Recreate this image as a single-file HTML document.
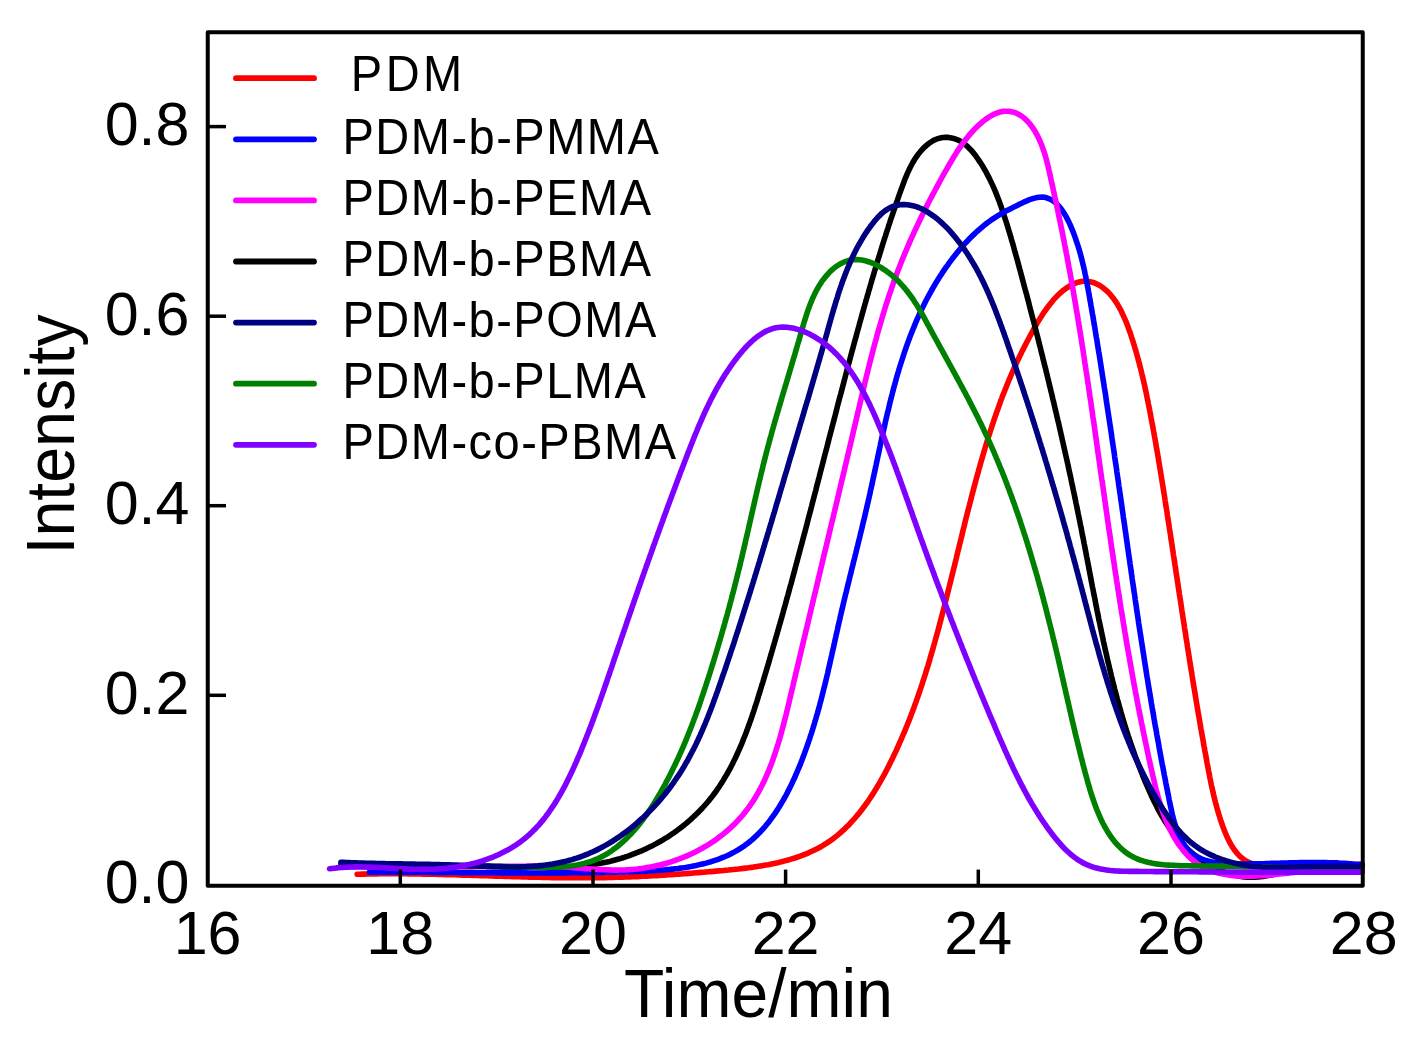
<!DOCTYPE html>
<html><head><meta charset="utf-8"><style>
html,body{margin:0;padding:0;background:#fff;width:1413px;height:1046px;overflow:hidden;}
svg{display:block;filter:blur(0.45px);}
text{font-family:"Liberation Sans",sans-serif;}
</style></head><body>
<svg width="1413" height="1046" viewBox="0 0 1413 1046">
<rect x="0" y="0" width="1413" height="1046" fill="#fff"/>
<path d="M357.2,874.2 L359.7,874.2 L362.1,874.1 L364.5,874.1 L367.0,874.0 L369.4,874.0 L371.8,873.9 L374.3,873.9 L376.7,873.9 L379.2,873.8 L381.6,873.8 L384.1,873.8 L386.5,873.8 L388.9,873.8 L391.4,873.8 L393.8,873.8 L396.3,873.8 L398.7,873.8 L401.2,873.8 L403.7,873.8 L406.1,873.8 L408.6,873.9 L411.0,873.9 L413.5,873.9 L415.9,874.0 L418.4,874.0 L420.9,874.0 L423.3,874.1 L425.8,874.1 L428.3,874.2 L430.7,874.2 L433.2,874.3 L435.6,874.3 L438.1,874.4 L440.6,874.4 L443.0,874.5 L445.5,874.6 L448.0,874.6 L450.4,874.7 L452.9,874.8 L455.4,874.8 L457.9,874.9 L460.3,875.0 L462.8,875.1 L465.3,875.1 L467.7,875.2 L470.2,875.3 L472.7,875.4 L475.2,875.4 L477.6,875.5 L480.1,875.6 L482.6,875.7 L485.0,875.8 L487.5,875.8 L490.0,875.9 L492.5,876.0 L494.9,876.1 L497.4,876.2 L499.9,876.2 L502.3,876.3 L504.8,876.4 L507.3,876.5 L509.8,876.5 L512.2,876.6 L514.7,876.7 L517.2,876.8 L519.6,876.8 L522.1,876.9 L524.6,877.0 L527.1,877.0 L529.5,877.1 L532.0,877.1 L534.5,877.2 L536.9,877.3 L539.4,877.3 L541.9,877.4 L544.3,877.4 L546.8,877.5 L549.3,877.5 L551.7,877.6 L554.2,877.6 L556.6,877.6 L559.1,877.7 L561.6,877.7 L564.0,877.7 L566.5,877.8 L568.9,877.8 L571.4,877.8 L573.9,877.8 L576.3,877.8 L578.8,877.8 L581.2,877.8 L583.7,877.8 L586.1,877.8 L588.6,877.8 L591.0,877.8 L593.5,877.8 L595.9,877.7 L598.4,877.7 L600.8,877.7 L603.2,877.6 L605.7,877.6 L608.1,877.5 L610.6,877.5 L613.0,877.4 L615.4,877.3 L617.9,877.3 L620.3,877.2 L622.7,877.1 L625.2,877.0 L627.6,877.0 L630.0,876.9 L632.5,876.8 L634.9,876.7 L637.4,876.6 L639.8,876.4 L642.2,876.3 L644.7,876.2 L647.1,876.1 L649.5,876.0 L652.0,875.8 L654.4,875.7 L656.8,875.6 L659.3,875.4 L661.7,875.3 L664.2,875.1 L666.6,875.0 L669.1,874.8 L671.5,874.6 L673.9,874.5 L676.4,874.3 L678.8,874.1 L681.3,874.0 L683.8,873.8 L686.2,873.6 L688.7,873.4 L691.1,873.2 L693.6,873.0 L696.1,872.8 L698.5,872.6 L701.0,872.4 L703.5,872.2 L706.0,872.0 L708.4,871.8 L710.9,871.6 L713.4,871.4 L715.9,871.1 L718.4,870.9 L720.9,870.7 L723.4,870.5 L725.9,870.2 L728.4,870.0 L730.9,869.7 L733.4,869.5 L735.9,869.2 L738.4,869.0 L740.9,868.7 L743.4,868.4 L745.9,868.1 L748.4,867.8 L750.9,867.4 L753.3,867.1 L755.8,866.7 L758.3,866.3 L760.8,865.9 L763.2,865.5 L765.7,865.1 L768.1,864.7 L770.5,864.2 L772.9,863.7 L775.3,863.2 L777.7,862.7 L780.1,862.1 L782.5,861.5 L784.8,860.9 L787.2,860.3 L789.5,859.6 L791.8,858.9 L794.1,858.2 L796.4,857.5 L798.7,856.7 L800.9,855.9 L803.2,855.0 L805.4,854.2 L807.6,853.3 L809.7,852.3 L811.9,851.3 L814.0,850.3 L816.1,849.3 L818.2,848.2 L820.3,847.1 L822.3,845.9 L824.3,844.7 L826.3,843.4 L828.2,842.1 L830.2,840.8 L832.1,839.4 L834.0,838.0 L835.8,836.6 L837.7,835.1 L839.5,833.5 L841.3,832.0 L843.0,830.4 L844.8,828.8 L846.5,827.1 L848.2,825.4 L849.9,823.7 L851.5,821.9 L853.1,820.1 L854.8,818.3 L856.3,816.5 L857.9,814.6 L859.5,812.7 L861.0,810.8 L862.5,808.8 L864.0,806.8 L865.4,804.8 L866.9,802.8 L868.3,800.8 L869.7,798.7 L871.1,796.6 L872.4,794.6 L873.8,792.4 L875.1,790.3 L876.4,788.2 L877.7,786.0 L879.0,783.8 L880.3,781.6 L881.5,779.4 L882.8,777.2 L884.0,775.0 L885.2,772.8 L886.4,770.5 L887.5,768.3 L888.7,766.1 L889.8,763.8 L890.9,761.5 L892.1,759.3 L893.1,757.0 L894.2,754.7 L895.3,752.4 L896.4,750.2 L897.4,747.9 L898.4,745.6 L899.4,743.3 L900.5,741.1 L901.4,738.8 L902.4,736.5 L903.4,734.2 L904.4,732.0 L905.3,729.7 L906.2,727.4 L907.2,725.1 L908.1,722.8 L909.0,720.6 L909.9,718.3 L910.8,716.0 L911.6,713.7 L912.5,711.4 L913.4,709.1 L914.2,706.8 L915.0,704.5 L915.9,702.2 L916.7,699.9 L917.5,697.6 L918.3,695.3 L919.1,693.0 L919.9,690.7 L920.7,688.4 L921.4,686.1 L922.2,683.8 L922.9,681.5 L923.7,679.2 L924.4,676.9 L925.2,674.6 L925.9,672.2 L926.6,669.9 L927.3,667.6 L928.1,665.3 L928.8,662.9 L929.5,660.6 L930.1,658.3 L930.8,655.9 L931.5,653.6 L932.2,651.2 L932.9,648.9 L933.5,646.5 L934.2,644.2 L934.9,641.8 L935.5,639.4 L936.2,637.1 L936.8,634.7 L937.5,632.3 L938.1,630.0 L938.8,627.6 L939.4,625.2 L940.0,622.8 L940.7,620.4 L941.3,618.0 L941.9,615.7 L942.5,613.3 L943.2,610.9 L943.8,608.5 L944.4,606.1 L945.0,603.7 L945.6,601.3 L946.2,598.9 L946.8,596.5 L947.4,594.1 L948.0,591.7 L948.6,589.3 L949.2,586.9 L949.8,584.5 L950.4,582.0 L951.0,579.6 L951.6,577.2 L952.2,574.8 L952.8,572.4 L953.4,570.0 L954.0,567.6 L954.6,565.2 L955.2,562.7 L955.8,560.3 L956.4,557.9 L956.9,555.5 L957.5,553.1 L958.1,550.7 L958.7,548.3 L959.3,545.8 L959.9,543.4 L960.5,541.0 L961.1,538.6 L961.7,536.2 L962.3,533.8 L962.8,531.4 L963.4,529.0 L964.0,526.6 L964.6,524.2 L965.2,521.7 L965.8,519.3 L966.4,516.9 L967.0,514.5 L967.6,512.1 L968.2,509.7 L968.8,507.4 L969.5,505.0 L970.1,502.6 L970.7,500.2 L971.3,497.8 L971.9,495.4 L972.5,493.0 L973.2,490.6 L973.8,488.3 L974.4,485.9 L975.1,483.5 L975.7,481.1 L976.3,478.8 L977.0,476.4 L977.6,474.1 L978.3,471.7 L978.9,469.3 L979.6,467.0 L980.3,464.6 L980.9,462.3 L981.6,460.0 L982.3,457.6 L982.9,455.3 L983.6,453.0 L984.3,450.6 L985.0,448.3 L985.7,446.0 L986.4,443.7 L987.1,441.4 L987.8,439.1 L988.5,436.8 L989.3,434.5 L990.0,432.2 L990.7,429.9 L991.5,427.6 L992.2,425.3 L993.0,423.1 L993.7,420.8 L994.5,418.5 L995.3,416.2 L996.1,414.0 L996.9,411.7 L997.7,409.5 L998.5,407.2 L999.3,404.9 L1000.1,402.7 L1000.9,400.4 L1001.8,398.2 L1002.6,395.9 L1003.5,393.7 L1004.4,391.4 L1005.3,389.2 L1006.2,386.9 L1007.1,384.7 L1008.0,382.5 L1008.9,380.2 L1009.9,378.0 L1010.9,375.7 L1011.8,373.5 L1012.8,371.2 L1013.8,369.0 L1014.8,366.7 L1015.9,364.5 L1016.9,362.2 L1017.9,359.9 L1019.0,357.7 L1020.1,355.4 L1021.2,353.2 L1022.3,350.9 L1023.5,348.6 L1024.6,346.3 L1025.8,344.1 L1027.0,341.8 L1028.2,339.5 L1029.4,337.2 L1030.6,334.9 L1031.9,332.6 L1033.1,330.3 L1034.4,328.0 L1035.7,325.7 L1037.1,323.4 L1038.4,321.2 L1039.8,318.9 L1041.2,316.7 L1042.6,314.4 L1044.1,312.2 L1045.6,310.1 L1047.1,308.0 L1048.6,305.9 L1050.2,303.9 L1051.8,301.9 L1053.4,299.9 L1055.1,298.1 L1056.8,296.3 L1058.6,294.5 L1060.4,292.9 L1062.2,291.3 L1064.1,289.8 L1066.0,288.4 L1067.9,287.1 L1069.9,285.8 L1072.0,284.7 L1074.0,283.8 L1076.1,282.9 L1078.2,282.2 L1080.3,281.7 L1082.5,281.3 L1084.6,281.2 L1086.7,281.2 L1088.9,281.5 L1091.0,281.9 L1093.1,282.5 L1095.2,283.2 L1097.2,284.2 L1099.2,285.2 L1101.2,286.4 L1103.1,287.8 L1104.9,289.3 L1106.7,290.9 L1108.5,292.5 L1110.1,294.3 L1111.7,296.2 L1113.3,298.2 L1114.8,300.3 L1116.2,302.4 L1117.6,304.6 L1118.9,306.9 L1120.2,309.2 L1121.5,311.6 L1122.6,314.1 L1123.8,316.6 L1124.9,319.1 L1126.0,321.6 L1127.0,324.2 L1128.0,326.8 L1128.9,329.4 L1129.9,332.0 L1130.8,334.7 L1131.6,337.3 L1132.5,339.9 L1133.3,342.5 L1134.1,345.0 L1134.8,347.6 L1135.6,350.1 L1136.3,352.6 L1137.0,355.0 L1137.7,357.5 L1138.3,359.9 L1139.0,362.3 L1139.6,364.7 L1140.2,367.1 L1140.8,369.4 L1141.4,371.8 L1141.9,374.1 L1142.5,376.4 L1143.0,378.8 L1143.6,381.1 L1144.1,383.4 L1144.6,385.7 L1145.1,387.9 L1145.6,390.2 L1146.1,392.5 L1146.6,394.8 L1147.0,397.1 L1147.5,399.4 L1148.0,401.7 L1148.4,404.0 L1148.9,406.3 L1149.4,408.7 L1149.8,411.0 L1150.3,413.3 L1150.7,415.7 L1151.1,418.0 L1151.6,420.4 L1152.0,422.7 L1152.5,425.1 L1152.9,427.5 L1153.3,429.8 L1153.8,432.2 L1154.2,434.6 L1154.6,437.0 L1155.1,439.4 L1155.5,441.8 L1155.9,444.2 L1156.3,446.7 L1156.7,449.1 L1157.2,451.5 L1157.6,453.9 L1158.0,456.4 L1158.4,458.8 L1158.8,461.2 L1159.2,463.7 L1159.6,466.1 L1160.0,468.6 L1160.4,471.0 L1160.8,473.5 L1161.2,475.9 L1161.6,478.4 L1162.0,480.9 L1162.4,483.3 L1162.8,485.8 L1163.2,488.2 L1163.6,490.7 L1164.0,493.2 L1164.4,495.6 L1164.8,498.1 L1165.1,500.6 L1165.5,503.0 L1165.9,505.5 L1166.3,508.0 L1166.7,510.4 L1167.1,512.9 L1167.4,515.4 L1167.8,517.8 L1168.2,520.3 L1168.6,522.8 L1169.0,525.2 L1169.3,527.7 L1169.7,530.1 L1170.1,532.6 L1170.5,535.0 L1170.8,537.5 L1171.2,540.0 L1171.6,542.4 L1172.0,544.9 L1172.3,547.3 L1172.7,549.8 L1173.1,552.2 L1173.4,554.6 L1173.8,557.1 L1174.2,559.5 L1174.6,562.0 L1174.9,564.4 L1175.3,566.8 L1175.7,569.3 L1176.0,571.7 L1176.4,574.2 L1176.8,576.6 L1177.1,579.0 L1177.5,581.5 L1177.9,583.9 L1178.2,586.3 L1178.6,588.8 L1179.0,591.2 L1179.3,593.6 L1179.7,596.0 L1180.1,598.5 L1180.5,600.9 L1180.8,603.3 L1181.2,605.8 L1181.6,608.2 L1181.9,610.6 L1182.3,613.0 L1182.7,615.4 L1183.0,617.9 L1183.4,620.3 L1183.8,622.7 L1184.2,625.1 L1184.5,627.6 L1184.9,630.0 L1185.3,632.4 L1185.7,634.8 L1186.0,637.2 L1186.4,639.7 L1186.8,642.1 L1187.2,644.5 L1187.5,646.9 L1187.9,649.3 L1188.3,651.7 L1188.7,654.2 L1189.1,656.6 L1189.4,659.0 L1189.8,661.4 L1190.2,663.8 L1190.6,666.2 L1191.0,668.7 L1191.4,671.1 L1191.8,673.5 L1192.1,675.9 L1192.5,678.3 L1192.9,680.8 L1193.3,683.2 L1193.7,685.6 L1194.1,688.0 L1194.5,690.4 L1194.9,692.8 L1195.3,695.3 L1195.7,697.7 L1196.1,700.1 L1196.5,702.5 L1196.9,704.9 L1197.3,707.4 L1197.7,709.8 L1198.1,712.2 L1198.5,714.6 L1199.0,717.0 L1199.4,719.5 L1199.8,721.9 L1200.2,724.3 L1200.6,726.7 L1201.0,729.2 L1201.5,731.6 L1201.9,734.0 L1202.3,736.4 L1202.8,738.9 L1203.2,741.3 L1203.6,743.7 L1204.0,746.2 L1204.5,748.6 L1204.9,751.0 L1205.4,753.4 L1205.8,755.9 L1206.3,758.3 L1206.7,760.7 L1207.1,763.2 L1207.6,765.6 L1208.1,768.1 L1208.5,770.5 L1209.0,772.9 L1209.5,775.4 L1209.9,777.8 L1210.4,780.2 L1210.9,782.7 L1211.4,785.1 L1212.0,787.6 L1212.5,790.0 L1213.1,792.4 L1213.6,794.9 L1214.2,797.3 L1214.8,799.7 L1215.4,802.2 L1216.1,804.6 L1216.7,807.0 L1217.4,809.5 L1218.1,811.9 L1218.8,814.3 L1219.6,816.7 L1220.3,819.2 L1221.1,821.6 L1222.0,824.0 L1222.8,826.4 L1223.7,828.8 L1224.6,831.2 L1225.6,833.5 L1226.6,835.8 L1227.6,838.1 L1228.7,840.3 L1229.8,842.5 L1231.0,844.6 L1232.2,846.7 L1233.5,848.6 L1234.9,850.5 L1236.3,852.3 L1237.8,854.1 L1239.3,855.7 L1240.9,857.2 L1242.6,858.6 L1244.3,859.8 L1246.2,861.0 L1248.1,862.0 L1250.1,862.9 L1252.2,863.6 L1254.3,864.3 L1256.5,864.8 L1258.8,865.2 L1261.1,865.5 L1263.5,865.7 L1265.9,865.8 L1268.4,865.9 L1270.9,865.9 L1273.5,865.8 L1276.0,865.7 L1278.6,865.5 L1281.2,865.3 L1283.9,865.1 L1286.5,864.9 L1289.1,864.6 L1291.7,864.4 L1294.4,864.1 L1297.0,863.9 L1299.6,863.7 L1302.2,863.5 L1304.7,863.4 L1307.2,863.3 L1309.7,863.2 L1312.2,863.2 L1314.6,863.2 L1317.0,863.3 L1319.4,863.4 L1321.8,863.5 L1324.2,863.6 L1326.5,863.7 L1328.9,863.9 L1331.2,864.0 L1333.6,864.1 L1336.0,864.2 L1338.4,864.4 L1340.8,864.5 L1343.2,864.5 L1345.6,864.6 L1348.1,864.6 L1350.6,864.6 L1353.1,864.5 L1355.6,864.4 L1358.2,864.2 L1360.9,864.0 L1362.2,863.9" fill="none" stroke="#FF0000" stroke-width="5.6" stroke-linejoin="round" stroke-linecap="round"/>
<path d="M340.7,865.4 L343.5,865.6 L346.3,865.7 L349.1,865.9 L352.0,866.0 L354.8,866.1 L357.5,866.2 L360.3,866.3 L363.1,866.4 L365.9,866.5 L368.7,866.6 L371.4,866.6 L374.2,866.7 L377.0,866.7 L379.7,866.7 L382.5,866.7 L385.2,866.8 L387.9,866.8 L390.7,866.8 L393.4,866.8 L396.2,866.7 L398.9,866.7 L401.6,866.7 L404.3,866.7 L407.1,866.6 L409.8,866.6 L412.5,866.5 L415.2,866.5 L417.9,866.5 L420.7,866.4 L423.4,866.4 L426.1,866.3 L428.8,866.3 L431.5,866.2 L434.2,866.2 L437.0,866.1 L439.7,866.1 L442.4,866.0 L445.1,866.0 L447.8,866.0 L450.5,865.9 L453.3,865.9 L456.0,865.9 L458.7,865.9 L461.4,865.8 L464.2,865.8 L466.9,865.8 L469.6,865.8 L472.4,865.8 L475.1,865.9 L477.9,865.9 L480.6,865.9 L483.4,866.0 L486.1,866.0 L488.9,866.1 L491.6,866.2 L494.4,866.2 L497.2,866.3 L500.0,866.4 L502.7,866.5 L505.5,866.6 L508.3,866.7 L511.1,866.8 L513.8,866.9 L516.6,867.0 L519.4,867.1 L522.2,867.2 L525.0,867.2 L527.8,867.3 L530.5,867.4 L533.3,867.4 L536.1,867.5 L538.9,867.5 L541.7,867.5 L544.4,867.5 L547.2,867.5 L550.0,867.5 L552.7,867.5 L555.5,867.5 L558.3,867.4 L561.0,867.3 L563.8,867.2 L566.5,867.1 L569.3,866.9 L572.0,866.8 L574.8,866.6 L577.5,866.3 L580.2,866.1 L582.9,865.8 L585.7,865.5 L588.4,865.2 L591.1,864.8 L593.8,864.4 L596.5,864.0 L599.1,863.6 L601.8,863.1 L604.5,862.5 L607.1,862.0 L609.8,861.4 L612.4,860.7 L615.0,860.0 L617.7,859.3 L620.3,858.6 L622.9,857.8 L625.5,856.9 L628.0,856.1 L630.6,855.2 L633.1,854.2 L635.7,853.2 L638.2,852.2 L640.7,851.2 L643.2,850.1 L645.7,848.9 L648.1,847.8 L650.6,846.6 L653.0,845.4 L655.4,844.1 L657.8,842.8 L660.1,841.5 L662.5,840.1 L664.8,838.7 L667.1,837.3 L669.4,835.8 L671.6,834.3 L673.9,832.8 L676.1,831.2 L678.3,829.6 L680.4,828.0 L682.6,826.3 L684.7,824.6 L686.8,822.9 L688.8,821.1 L690.8,819.4 L692.8,817.5 L694.8,815.7 L696.7,813.8 L698.7,811.9 L700.5,810.0 L702.4,808.0 L704.2,806.0 L706.0,804.0 L707.7,802.0 L709.5,799.9 L711.1,797.8 L712.8,795.7 L714.4,793.5 L716.0,791.3 L717.5,789.1 L719.1,786.9 L720.5,784.6 L722.0,782.4 L723.4,780.1 L724.8,777.7 L726.2,775.4 L727.6,773.0 L728.9,770.7 L730.2,768.3 L731.5,765.8 L732.7,763.4 L733.9,760.9 L735.1,758.5 L736.3,756.0 L737.4,753.5 L738.6,750.9 L739.7,748.4 L740.8,745.9 L741.9,743.3 L742.9,740.7 L743.9,738.1 L745.0,735.5 L746.0,732.9 L747.0,730.3 L747.9,727.7 L748.9,725.1 L749.8,722.4 L750.8,719.8 L751.7,717.1 L752.6,714.4 L753.5,711.8 L754.4,709.1 L755.2,706.4 L756.1,703.8 L757.0,701.1 L757.8,698.4 L758.6,695.7 L759.5,693.0 L760.3,690.3 L761.1,687.7 L761.9,685.0 L762.8,682.3 L763.6,679.6 L764.4,676.9 L765.2,674.3 L766.0,671.6 L766.8,668.9 L767.6,666.2 L768.4,663.6 L769.2,660.9 L769.9,658.3 L770.7,655.6 L771.5,652.9 L772.3,650.3 L773.0,647.6 L773.8,645.0 L774.6,642.3 L775.3,639.7 L776.1,637.0 L776.9,634.4 L777.6,631.7 L778.4,629.1 L779.1,626.4 L779.9,623.8 L780.6,621.2 L781.4,618.5 L782.1,615.9 L782.9,613.2 L783.6,610.6 L784.3,608.0 L785.1,605.3 L785.8,602.7 L786.5,600.1 L787.2,597.5 L788.0,594.8 L788.7,592.2 L789.4,589.6 L790.1,586.9 L790.9,584.3 L791.6,581.7 L792.3,579.1 L793.0,576.4 L793.7,573.8 L794.4,571.2 L795.1,568.6 L795.8,565.9 L796.5,563.3 L797.2,560.7 L797.9,558.1 L798.6,555.5 L799.3,552.8 L800.0,550.2 L800.7,547.6 L801.4,545.0 L802.1,542.4 L802.8,539.7 L803.5,537.1 L804.2,534.5 L804.9,531.9 L805.6,529.3 L806.3,526.6 L807.0,524.0 L807.6,521.4 L808.3,518.8 L809.0,516.1 L809.7,513.5 L810.4,510.9 L811.1,508.3 L811.8,505.6 L812.4,503.0 L813.1,500.4 L813.8,497.8 L814.5,495.1 L815.2,492.5 L815.9,489.9 L816.5,487.2 L817.2,484.6 L817.9,482.0 L818.6,479.3 L819.3,476.7 L819.9,474.1 L820.6,471.4 L821.3,468.8 L822.0,466.1 L822.7,463.5 L823.4,460.8 L824.0,458.2 L824.7,455.6 L825.4,452.9 L826.1,450.3 L826.8,447.6 L827.5,444.9 L828.2,442.3 L828.8,439.6 L829.5,437.0 L830.2,434.3 L830.9,431.6 L831.6,429.0 L832.3,426.3 L833.0,423.6 L833.7,421.0 L834.4,418.3 L835.1,415.6 L835.8,413.0 L836.5,410.3 L837.1,407.6 L837.8,404.9 L838.5,402.2 L839.2,399.6 L839.9,396.9 L840.7,394.2 L841.4,391.5 L842.1,388.8 L842.8,386.1 L843.5,383.5 L844.2,380.8 L844.9,378.1 L845.6,375.4 L846.3,372.7 L847.0,370.0 L847.7,367.4 L848.4,364.7 L849.2,362.0 L849.9,359.3 L850.6,356.6 L851.3,354.0 L852.0,351.3 L852.8,348.6 L853.5,345.9 L854.2,343.3 L854.9,340.6 L855.7,337.9 L856.4,335.3 L857.1,332.6 L857.8,330.0 L858.6,327.3 L859.3,324.6 L860.0,322.0 L860.8,319.3 L861.5,316.7 L862.2,314.1 L863.0,311.4 L863.7,308.8 L864.4,306.2 L865.2,303.5 L865.9,300.9 L866.7,298.3 L867.4,295.7 L868.2,293.1 L868.9,290.5 L869.7,287.9 L870.4,285.3 L871.2,282.7 L871.9,280.1 L872.7,277.5 L873.5,274.9 L874.2,272.3 L875.0,269.7 L875.8,267.1 L876.5,264.5 L877.3,261.9 L878.1,259.3 L878.9,256.8 L879.7,254.2 L880.5,251.6 L881.3,249.0 L882.1,246.4 L882.9,243.8 L883.7,241.2 L884.5,238.6 L885.4,236.1 L886.2,233.5 L887.0,230.9 L887.9,228.3 L888.7,225.7 L889.6,223.1 L890.4,220.5 L891.3,217.9 L892.2,215.3 L893.1,212.7 L894.0,210.1 L894.9,207.4 L895.8,204.8 L896.7,202.2 L897.6,199.6 L898.5,196.9 L899.4,194.3 L900.4,191.7 L901.3,189.0 L902.3,186.4 L903.3,183.7 L904.3,181.1 L905.3,178.4 L906.4,175.8 L907.5,173.2 L908.7,170.6 L909.9,168.0 L911.2,165.5 L912.5,163.0 L914.0,160.5 L915.5,158.1 L917.2,155.7 L918.9,153.4 L920.7,151.2 L922.6,149.1 L924.6,147.1 L926.6,145.2 L928.8,143.5 L931.0,142.0 L933.2,140.6 L935.5,139.5 L937.9,138.6 L940.3,138.0 L942.8,137.5 L945.3,137.4 L947.7,137.4 L950.2,137.7 L952.7,138.2 L955.1,138.9 L957.5,139.8 L959.8,140.9 L962.1,142.2 L964.3,143.8 L966.4,145.5 L968.4,147.4 L970.4,149.4 L972.3,151.5 L974.1,153.8 L975.9,156.1 L977.6,158.5 L979.2,160.9 L980.8,163.3 L982.4,165.7 L983.8,168.2 L985.3,170.7 L986.6,173.1 L987.9,175.6 L989.2,178.1 L990.4,180.6 L991.6,183.1 L992.8,185.6 L993.9,188.1 L995.0,190.6 L996.0,193.1 L997.0,195.6 L998.0,198.2 L999.0,200.7 L999.9,203.3 L1000.8,205.8 L1001.7,208.4 L1002.6,211.0 L1003.4,213.5 L1004.3,216.1 L1005.1,218.7 L1006.0,221.3 L1006.8,223.9 L1007.6,226.5 L1008.4,229.1 L1009.2,231.8 L1010.0,234.4 L1010.8,237.0 L1011.5,239.6 L1012.3,242.3 L1013.1,244.9 L1013.8,247.6 L1014.5,250.2 L1015.3,252.9 L1016.0,255.5 L1016.8,258.2 L1017.5,260.8 L1018.2,263.5 L1018.9,266.1 L1019.6,268.8 L1020.4,271.4 L1021.1,274.1 L1021.8,276.8 L1022.5,279.4 L1023.2,282.1 L1023.9,284.7 L1024.6,287.4 L1025.3,290.0 L1026.1,292.7 L1026.8,295.3 L1027.5,298.0 L1028.2,300.6 L1028.9,303.3 L1029.5,305.9 L1030.2,308.6 L1030.9,311.3 L1031.6,313.9 L1032.3,316.6 L1033.0,319.2 L1033.7,321.9 L1034.4,324.5 L1035.1,327.2 L1035.7,329.8 L1036.4,332.5 L1037.1,335.1 L1037.8,337.8 L1038.5,340.4 L1039.1,343.1 L1039.8,345.7 L1040.5,348.4 L1041.1,351.0 L1041.8,353.7 L1042.5,356.4 L1043.1,359.0 L1043.8,361.7 L1044.4,364.3 L1045.1,367.0 L1045.8,369.6 L1046.4,372.3 L1047.1,374.9 L1047.7,377.6 L1048.4,380.3 L1049.0,382.9 L1049.6,385.6 L1050.3,388.2 L1050.9,390.9 L1051.6,393.5 L1052.2,396.2 L1052.8,398.9 L1053.5,401.5 L1054.1,404.2 L1054.7,406.8 L1055.3,409.5 L1056.0,412.2 L1056.6,414.8 L1057.2,417.5 L1057.8,420.1 L1058.5,422.8 L1059.1,425.5 L1059.7,428.1 L1060.3,430.8 L1060.9,433.5 L1061.5,436.1 L1062.1,438.8 L1062.7,441.5 L1063.3,444.1 L1063.9,446.8 L1064.5,449.5 L1065.1,452.1 L1065.7,454.8 L1066.3,457.5 L1066.9,460.2 L1067.5,462.8 L1068.1,465.5 L1068.6,468.2 L1069.2,470.9 L1069.8,473.5 L1070.4,476.2 L1071.0,478.9 L1071.5,481.6 L1072.1,484.3 L1072.7,486.9 L1073.2,489.6 L1073.8,492.3 L1074.4,495.0 L1074.9,497.7 L1075.5,500.4 L1076.0,503.0 L1076.6,505.7 L1077.1,508.4 L1077.7,511.1 L1078.2,513.8 L1078.8,516.5 L1079.3,519.2 L1079.9,521.9 L1080.4,524.6 L1081.0,527.3 L1081.5,530.0 L1082.0,532.7 L1082.5,535.4 L1083.1,538.1 L1083.6,540.8 L1084.1,543.5 L1084.7,546.2 L1085.2,548.9 L1085.7,551.6 L1086.2,554.3 L1086.7,557.0 L1087.3,559.7 L1087.8,562.4 L1088.3,565.1 L1088.8,567.8 L1089.3,570.5 L1089.8,573.2 L1090.4,576.0 L1090.9,578.7 L1091.4,581.4 L1091.9,584.1 L1092.4,586.8 L1093.0,589.5 L1093.5,592.2 L1094.0,594.9 L1094.6,597.6 L1095.1,600.3 L1095.6,603.0 L1096.1,605.7 L1096.7,608.4 L1097.2,611.1 L1097.8,613.9 L1098.3,616.6 L1098.8,619.3 L1099.4,622.0 L1100.0,624.7 L1100.5,627.4 L1101.1,630.0 L1101.6,632.7 L1102.2,635.4 L1102.8,638.1 L1103.3,640.8 L1103.9,643.5 L1104.5,646.2 L1105.1,648.9 L1105.7,651.6 L1106.3,654.2 L1106.9,656.9 L1107.5,659.6 L1108.1,662.3 L1108.8,664.9 L1109.4,667.6 L1110.0,670.3 L1110.7,673.0 L1111.3,675.6 L1112.0,678.3 L1112.6,680.9 L1113.3,683.6 L1114.0,686.2 L1114.6,688.9 L1115.3,691.5 L1116.0,694.2 L1116.7,696.8 L1117.4,699.5 L1118.2,702.1 L1118.9,704.7 L1119.6,707.4 L1120.4,710.0 L1121.1,712.6 L1121.9,715.2 L1122.6,717.9 L1123.4,720.5 L1124.2,723.1 L1125.0,725.7 L1125.8,728.3 L1126.6,730.9 L1127.5,733.5 L1128.3,736.1 L1129.2,738.6 L1130.0,741.2 L1130.9,743.8 L1131.8,746.4 L1132.7,748.9 L1133.6,751.5 L1134.5,754.1 L1135.4,756.6 L1136.3,759.2 L1137.3,761.7 L1138.3,764.2 L1139.2,766.8 L1140.2,769.3 L1141.2,771.8 L1142.2,774.3 L1143.2,776.9 L1144.3,779.4 L1145.3,781.9 L1146.4,784.4 L1147.5,786.9 L1148.6,789.4 L1149.7,791.8 L1150.8,794.3 L1151.9,796.8 L1153.1,799.2 L1154.3,801.7 L1155.5,804.1 L1156.7,806.5 L1157.9,808.9 L1159.2,811.3 L1160.5,813.7 L1161.9,816.1 L1163.3,818.4 L1164.7,820.7 L1166.1,823.0 L1167.6,825.3 L1169.1,827.5 L1170.7,829.7 L1172.3,831.9 L1174.0,834.1 L1175.7,836.2 L1177.4,838.4 L1179.2,840.4 L1181.1,842.5 L1183.0,844.5 L1184.9,846.5 L1186.9,848.4 L1189.0,850.3 L1191.1,852.2 L1193.3,854.0 L1195.5,855.7 L1197.7,857.5 L1200.0,859.1 L1202.4,860.7 L1204.7,862.3 L1207.1,863.8 L1209.5,865.2 L1212.0,866.5 L1214.4,867.8 L1216.9,869.0 L1219.4,870.2 L1221.9,871.2 L1224.5,872.2 L1227.0,873.1 L1229.6,873.9 L1232.1,874.7 L1234.7,875.3 L1237.2,875.8 L1239.8,876.3 L1242.3,876.6 L1244.9,876.9 L1247.5,877.1 L1250.0,877.2 L1252.6,877.2 L1255.2,877.1 L1257.7,877.0 L1260.3,876.7 L1262.9,876.4 L1265.5,876.0 L1268.1,875.5 L1270.8,875.0 L1273.4,874.4 L1276.0,873.8 L1278.7,873.2 L1281.3,872.6 L1284.0,872.0 L1286.7,871.4 L1289.3,870.8 L1292.0,870.3 L1294.7,869.9 L1297.4,869.6 L1300.2,869.3 L1302.9,869.1 L1305.6,868.9 L1308.4,868.8 L1311.1,868.8 L1313.9,868.7 L1316.6,868.7 L1319.4,868.8 L1322.2,868.8 L1324.9,868.9 L1327.7,869.0 L1330.5,869.1 L1333.2,869.1 L1336.0,869.2 L1338.7,869.2 L1341.5,869.2 L1344.2,869.2 L1347.0,869.1 L1349.7,869.0 L1352.5,868.8 L1355.2,868.6 L1357.9,868.3 L1360.6,867.9 L1361.9,867.7" fill="none" stroke="#000000" stroke-width="5.6" stroke-linejoin="round" stroke-linecap="round"/>
<path d="M369.4,872.3 L372.2,872.3 L374.9,872.3 L377.6,872.3 L380.3,872.2 L383.0,872.2 L385.7,872.2 L388.4,872.2 L391.1,872.2 L393.8,872.2 L396.5,872.2 L399.2,872.2 L401.9,872.2 L404.6,872.2 L407.3,872.3 L409.9,872.3 L412.6,872.3 L415.3,872.3 L418.0,872.3 L420.6,872.3 L423.3,872.3 L425.9,872.3 L428.6,872.3 L431.3,872.4 L433.9,872.4 L436.6,872.4 L439.2,872.4 L441.9,872.4 L444.5,872.4 L447.1,872.5 L449.8,872.5 L452.4,872.5 L455.1,872.5 L457.7,872.5 L460.3,872.6 L463.0,872.6 L465.6,872.6 L468.2,872.6 L470.8,872.6 L473.5,872.7 L476.1,872.7 L478.7,872.7 L481.3,872.7 L484.0,872.7 L486.6,872.8 L489.2,872.8 L491.8,872.8 L494.5,872.8 L497.1,872.8 L499.7,872.8 L502.3,872.9 L504.9,872.9 L507.6,872.9 L510.2,872.9 L512.8,872.9 L515.4,872.9 L518.0,872.9 L520.7,872.9 L523.3,872.9 L525.9,872.9 L528.5,873.0 L531.2,873.0 L533.8,873.0 L536.4,873.0 L539.0,873.0 L541.7,873.0 L544.3,873.0 L546.9,872.9 L549.5,872.9 L552.2,872.9 L554.8,872.9 L557.4,872.9 L560.1,872.9 L562.7,872.9 L565.4,872.9 L568.0,872.8 L570.6,872.8 L573.3,872.8 L575.9,872.8 L578.6,872.7 L581.2,872.7 L583.9,872.7 L586.5,872.6 L589.2,872.6 L591.9,872.6 L594.5,872.5 L597.2,872.5 L599.9,872.4 L602.5,872.4 L605.2,872.3 L607.9,872.3 L610.6,872.2 L613.3,872.1 L615.9,872.1 L618.6,872.0 L621.3,871.9 L624.0,871.9 L626.7,871.8 L629.4,871.7 L632.1,871.6 L634.8,871.5 L637.6,871.4 L640.3,871.3 L643.0,871.2 L645.7,871.1 L648.4,871.0 L651.1,870.8 L653.8,870.7 L656.5,870.5 L659.2,870.3 L661.9,870.1 L664.6,869.9 L667.3,869.6 L669.9,869.4 L672.6,869.1 L675.3,868.8 L677.9,868.5 L680.5,868.1 L683.2,867.8 L685.8,867.4 L688.4,866.9 L690.9,866.5 L693.5,866.0 L696.1,865.5 L698.6,864.9 L701.1,864.3 L703.6,863.7 L706.1,863.1 L708.6,862.4 L711.0,861.7 L713.4,860.9 L715.8,860.1 L718.2,859.3 L720.5,858.4 L722.9,857.4 L725.2,856.5 L727.5,855.5 L729.7,854.4 L731.9,853.3 L734.1,852.1 L736.3,850.9 L738.4,849.7 L740.5,848.3 L742.6,847.0 L744.7,845.6 L746.7,844.1 L748.7,842.5 L750.6,841.0 L752.5,839.3 L754.4,837.6 L756.3,835.9 L758.1,834.1 L759.9,832.3 L761.6,830.4 L763.4,828.5 L765.1,826.5 L766.7,824.5 L768.4,822.5 L770.0,820.4 L771.6,818.2 L773.1,816.1 L774.7,813.9 L776.2,811.7 L777.7,809.4 L779.1,807.1 L780.5,804.8 L781.9,802.4 L783.3,800.1 L784.6,797.7 L786.0,795.3 L787.3,792.8 L788.5,790.3 L789.8,787.9 L791.0,785.4 L792.2,782.8 L793.4,780.3 L794.6,777.8 L795.7,775.2 L796.8,772.6 L797.9,770.0 L799.0,767.5 L800.1,764.9 L801.1,762.3 L802.1,759.7 L803.1,757.0 L804.1,754.4 L805.0,751.8 L806.0,749.2 L806.9,746.6 L807.8,744.0 L808.7,741.4 L809.6,738.8 L810.4,736.2 L811.3,733.6 L812.1,731.1 L812.9,728.5 L813.7,725.9 L814.5,723.3 L815.2,720.8 L816.0,718.2 L816.7,715.6 L817.5,713.1 L818.2,710.5 L818.9,708.0 L819.6,705.4 L820.2,702.9 L820.9,700.4 L821.6,697.8 L822.2,695.3 L822.9,692.8 L823.5,690.2 L824.1,687.7 L824.8,685.2 L825.4,682.6 L826.0,680.1 L826.6,677.6 L827.2,675.1 L827.8,672.6 L828.3,670.0 L828.9,667.5 L829.5,665.0 L830.1,662.5 L830.6,660.0 L831.2,657.5 L831.8,654.9 L832.3,652.4 L832.9,649.9 L833.5,647.4 L834.0,644.9 L834.6,642.4 L835.1,639.8 L835.7,637.3 L836.2,634.8 L836.8,632.3 L837.4,629.8 L837.9,627.2 L838.5,624.7 L839.1,622.2 L839.7,619.6 L840.2,617.1 L840.8,614.6 L841.4,612.0 L842.0,609.5 L842.6,607.0 L843.2,604.4 L843.8,601.9 L844.4,599.3 L845.0,596.8 L845.6,594.2 L846.3,591.7 L846.9,589.1 L847.5,586.6 L848.1,584.0 L848.8,581.5 L849.4,578.9 L850.0,576.3 L850.7,573.8 L851.3,571.2 L851.9,568.6 L852.6,566.1 L853.2,563.5 L853.8,560.9 L854.5,558.4 L855.1,555.8 L855.8,553.2 L856.4,550.6 L857.0,548.0 L857.7,545.4 L858.3,542.9 L858.9,540.3 L859.6,537.7 L860.2,535.1 L860.8,532.5 L861.5,529.9 L862.1,527.3 L862.7,524.7 L863.3,522.1 L864.0,519.5 L864.6,516.9 L865.2,514.3 L865.8,511.7 L866.4,509.1 L867.0,506.5 L867.6,503.9 L868.2,501.3 L868.8,498.7 L869.4,496.0 L870.0,493.4 L870.5,490.8 L871.1,488.2 L871.7,485.6 L872.3,483.0 L872.8,480.3 L873.4,477.7 L873.9,475.1 L874.5,472.5 L875.1,469.9 L875.6,467.2 L876.2,464.6 L876.7,462.0 L877.3,459.4 L877.8,456.8 L878.4,454.1 L879.0,451.5 L879.5,448.9 L880.1,446.3 L880.6,443.7 L881.2,441.1 L881.8,438.5 L882.3,435.9 L882.9,433.2 L883.5,430.6 L884.1,428.0 L884.7,425.4 L885.2,422.8 L885.8,420.2 L886.4,417.6 L887.0,415.1 L887.6,412.5 L888.3,409.9 L888.9,407.3 L889.5,404.7 L890.1,402.1 L890.8,399.6 L891.4,397.0 L892.1,394.4 L892.7,391.9 L893.4,389.3 L894.1,386.8 L894.8,384.2 L895.5,381.7 L896.2,379.1 L896.9,376.6 L897.6,374.1 L898.4,371.5 L899.1,369.0 L899.9,366.5 L900.7,364.0 L901.5,361.5 L902.3,359.0 L903.1,356.5 L903.9,354.0 L904.7,351.5 L905.6,349.0 L906.4,346.6 L907.3,344.1 L908.2,341.6 L909.1,339.2 L910.0,336.8 L911.0,334.3 L911.9,331.9 L912.9,329.5 L913.9,327.1 L914.9,324.6 L915.9,322.2 L916.9,319.8 L918.0,317.5 L919.0,315.1 L920.1,312.7 L921.2,310.4 L922.3,308.0 L923.5,305.7 L924.7,303.3 L925.8,301.0 L927.0,298.7 L928.3,296.4 L929.5,294.1 L930.8,291.8 L932.1,289.5 L933.4,287.2 L934.7,285.0 L936.0,282.7 L937.4,280.5 L938.8,278.2 L940.2,276.0 L941.7,273.8 L943.1,271.6 L944.6,269.4 L946.1,267.2 L947.7,265.1 L949.2,262.9 L950.8,260.8 L952.4,258.6 L954.1,256.5 L955.7,254.4 L957.4,252.3 L959.1,250.2 L960.9,248.2 L962.6,246.2 L964.4,244.2 L966.2,242.2 L968.1,240.2 L969.9,238.3 L971.8,236.4 L973.7,234.6 L975.6,232.8 L977.5,231.0 L979.5,229.3 L981.5,227.6 L983.5,225.9 L985.5,224.3 L987.5,222.7 L989.6,221.2 L991.7,219.7 L993.8,218.3 L995.9,217.0 L998.0,215.6 L1000.2,214.3 L1002.4,213.1 L1004.6,211.8 L1006.9,210.6 L1009.2,209.4 L1011.6,208.2 L1014.0,206.9 L1016.5,205.7 L1019.0,204.4 L1021.6,203.2 L1024.2,201.9 L1026.9,200.8 L1029.5,199.7 L1032.1,198.8 L1034.7,198.1 L1037.2,197.5 L1039.7,197.2 L1042.1,197.1 L1044.4,197.3 L1046.6,197.8 L1048.7,198.6 L1050.8,199.5 L1052.8,200.7 L1054.7,202.1 L1056.5,203.7 L1058.3,205.5 L1060.0,207.5 L1061.6,209.5 L1063.1,211.8 L1064.6,214.1 L1066.1,216.6 L1067.4,219.1 L1068.7,221.7 L1070.0,224.4 L1071.1,227.1 L1072.3,229.9 L1073.4,232.6 L1074.4,235.4 L1075.4,238.1 L1076.3,240.9 L1077.2,243.6 L1078.1,246.2 L1078.9,248.9 L1079.7,251.5 L1080.4,254.1 L1081.1,256.7 L1081.8,259.3 L1082.4,261.8 L1083.0,264.3 L1083.6,266.8 L1084.2,269.3 L1084.7,271.8 L1085.2,274.3 L1085.8,276.8 L1086.2,279.2 L1086.7,281.7 L1087.2,284.1 L1087.6,286.6 L1088.1,289.0 L1088.5,291.5 L1089.0,294.0 L1089.4,296.4 L1089.8,298.9 L1090.3,301.4 L1090.7,303.8 L1091.1,306.3 L1091.6,308.8 L1092.0,311.3 L1092.4,313.8 L1092.9,316.3 L1093.3,318.8 L1093.7,321.3 L1094.1,323.9 L1094.6,326.4 L1095.0,328.9 L1095.4,331.4 L1095.8,334.0 L1096.2,336.5 L1096.7,339.1 L1097.1,341.6 L1097.5,344.2 L1097.9,346.7 L1098.3,349.3 L1098.7,351.8 L1099.2,354.4 L1099.6,357.0 L1100.0,359.5 L1100.4,362.1 L1100.8,364.7 L1101.2,367.3 L1101.6,369.9 L1102.0,372.5 L1102.4,375.1 L1102.8,377.6 L1103.2,380.2 L1103.6,382.8 L1104.0,385.4 L1104.4,388.0 L1104.9,390.7 L1105.3,393.3 L1105.7,395.9 L1106.0,398.5 L1106.4,401.1 L1106.8,403.7 L1107.2,406.3 L1107.6,409.0 L1108.0,411.6 L1108.4,414.2 L1108.8,416.8 L1109.2,419.5 L1109.6,422.1 L1110.0,424.7 L1110.4,427.3 L1110.8,430.0 L1111.2,432.6 L1111.6,435.2 L1111.9,437.9 L1112.3,440.5 L1112.7,443.1 L1113.1,445.8 L1113.5,448.4 L1113.9,451.0 L1114.3,453.7 L1114.6,456.3 L1115.0,459.0 L1115.4,461.6 L1115.8,464.2 L1116.2,466.9 L1116.6,469.5 L1116.9,472.1 L1117.3,474.8 L1117.7,477.4 L1118.1,480.1 L1118.5,482.7 L1118.8,485.3 L1119.2,488.0 L1119.6,490.6 L1120.0,493.2 L1120.4,495.9 L1120.7,498.5 L1121.1,501.1 L1121.5,503.7 L1121.9,506.4 L1122.2,509.0 L1122.6,511.6 L1123.0,514.2 L1123.3,516.8 L1123.7,519.5 L1124.1,522.1 L1124.5,524.7 L1124.8,527.3 L1125.2,529.9 L1125.6,532.5 L1126.0,535.1 L1126.3,537.7 L1126.7,540.3 L1127.1,542.9 L1127.4,545.5 L1127.8,548.1 L1128.2,550.7 L1128.5,553.3 L1128.9,555.9 L1129.3,558.5 L1129.7,561.0 L1130.0,563.6 L1130.4,566.2 L1130.8,568.8 L1131.1,571.3 L1131.5,573.9 L1131.9,576.5 L1132.2,579.1 L1132.6,581.6 L1133.0,584.2 L1133.4,586.8 L1133.7,589.3 L1134.1,591.9 L1134.5,594.4 L1134.9,597.0 L1135.2,599.6 L1135.6,602.1 L1136.0,604.7 L1136.4,607.3 L1136.7,609.8 L1137.1,612.4 L1137.5,614.9 L1137.9,617.5 L1138.3,620.1 L1138.6,622.6 L1139.0,625.2 L1139.4,627.8 L1139.8,630.3 L1140.2,632.9 L1140.6,635.5 L1141.0,638.0 L1141.4,640.6 L1141.8,643.2 L1142.2,645.7 L1142.6,648.3 L1143.0,650.9 L1143.4,653.4 L1143.8,656.0 L1144.2,658.6 L1144.6,661.2 L1145.0,663.7 L1145.4,666.3 L1145.8,668.9 L1146.2,671.5 L1146.6,674.1 L1147.0,676.7 L1147.5,679.3 L1147.9,681.9 L1148.3,684.5 L1148.7,687.1 L1149.2,689.7 L1149.6,692.3 L1150.0,694.9 L1150.5,697.5 L1150.9,700.1 L1151.3,702.7 L1151.8,705.4 L1152.2,708.0 L1152.7,710.6 L1153.1,713.3 L1153.6,715.9 L1154.0,718.5 L1154.5,721.2 L1154.9,723.8 L1155.4,726.5 L1155.9,729.1 L1156.4,731.8 L1156.8,734.5 L1157.3,737.1 L1157.8,739.8 L1158.3,742.5 L1158.8,745.2 L1159.2,747.9 L1159.7,750.6 L1160.2,753.3 L1160.7,756.0 L1161.2,758.7 L1161.7,761.4 L1162.2,764.1 L1162.8,766.8 L1163.3,769.6 L1163.8,772.3 L1164.3,775.1 L1164.9,777.8 L1165.4,780.6 L1165.9,783.3 L1166.5,786.1 L1167.0,788.9 L1167.6,791.7 L1168.1,794.4 L1168.7,797.2 L1169.2,800.0 L1169.8,802.8 L1170.4,805.6 L1171.0,808.4 L1171.6,811.2 L1172.2,813.9 L1172.9,816.7 L1173.6,819.4 L1174.3,822.0 L1175.1,824.6 L1175.9,827.2 L1176.8,829.7 L1177.7,832.2 L1178.7,834.6 L1179.8,836.9 L1180.9,839.1 L1182.0,841.3 L1183.3,843.4 L1184.6,845.4 L1186.0,847.3 L1187.5,849.1 L1189.0,850.8 L1190.7,852.3 L1192.4,853.8 L1194.3,855.1 L1196.3,856.3 L1198.3,857.4 L1200.4,858.4 L1202.6,859.3 L1204.9,860.1 L1207.2,860.8 L1209.6,861.4 L1212.1,862.0 L1214.6,862.4 L1217.2,862.8 L1219.8,863.1 L1222.5,863.4 L1225.1,863.6 L1227.8,863.8 L1230.6,863.9 L1233.3,864.0 L1236.1,864.0 L1238.8,864.0 L1241.6,864.0 L1244.3,864.0 L1247.0,864.0 L1249.8,863.9 L1252.5,863.9 L1255.2,863.8 L1257.9,863.8 L1260.6,863.7 L1263.2,863.7 L1265.9,863.6 L1268.5,863.5 L1271.2,863.4 L1273.8,863.4 L1276.5,863.3 L1279.1,863.2 L1281.7,863.1 L1284.3,863.0 L1287.0,863.0 L1289.6,862.9 L1292.2,862.8 L1294.8,862.7 L1297.4,862.7 L1300.0,862.6 L1302.6,862.6 L1305.2,862.5 L1307.8,862.5 L1310.4,862.5 L1313.0,862.5 L1315.6,862.5 L1318.2,862.5 L1320.9,862.5 L1323.5,862.5 L1326.1,862.6 L1328.7,862.7 L1331.4,862.7 L1334.0,862.8 L1336.7,862.9 L1339.3,863.1 L1342.0,863.2 L1344.6,863.4 L1347.3,863.6 L1350.0,863.8 L1352.7,864.0 L1355.4,864.3 L1358.2,864.5 L1360.9,864.8 L1362.3,865.0" fill="none" stroke="#0000FF" stroke-width="5.6" stroke-linejoin="round" stroke-linecap="round"/>
<path d="M345.1,866.8 L347.9,866.7 L350.8,866.6 L353.6,866.6 L356.5,866.5 L359.3,866.4 L362.2,866.4 L365.0,866.4 L367.9,866.3 L370.8,866.3 L373.6,866.3 L376.5,866.3 L379.3,866.3 L382.2,866.3 L385.1,866.3 L387.9,866.3 L390.8,866.3 L393.7,866.3 L396.5,866.3 L399.4,866.3 L402.3,866.3 L405.1,866.4 L408.0,866.4 L410.9,866.4 L413.8,866.4 L416.6,866.5 L419.5,866.5 L422.4,866.5 L425.2,866.6 L428.1,866.6 L431.0,866.6 L433.8,866.6 L436.7,866.7 L439.6,866.7 L442.5,866.7 L445.3,866.8 L448.2,866.8 L451.1,866.8 L453.9,866.8 L456.8,866.8 L459.7,866.8 L462.5,866.9 L465.4,866.9 L468.3,866.9 L471.1,866.9 L474.0,866.9 L476.9,866.8 L479.7,866.8 L482.6,866.8 L485.5,866.8 L488.3,866.7 L491.2,866.7 L494.0,866.7 L496.9,866.6 L499.7,866.6 L502.6,866.5 L505.4,866.5 L508.3,866.4 L511.2,866.4 L514.0,866.3 L516.9,866.3 L519.7,866.2 L522.6,866.2 L525.4,866.2 L528.3,866.1 L531.1,866.1 L534.0,866.1 L536.9,866.1 L539.7,866.2 L542.6,866.2 L545.4,866.2 L548.3,866.3 L551.2,866.4 L554.0,866.5 L556.9,866.6 L559.8,866.7 L562.6,866.9 L565.5,867.1 L568.4,867.3 L571.3,867.5 L574.1,867.7 L577.0,867.9 L579.9,868.1 L582.8,868.3 L585.6,868.6 L588.5,868.8 L591.4,869.0 L594.3,869.2 L597.2,869.4 L600.1,869.5 L602.9,869.7 L605.8,869.8 L608.7,869.9 L611.6,870.0 L614.4,870.1 L617.3,870.1 L620.2,870.0 L623.1,870.0 L625.9,869.9 L628.8,869.7 L631.6,869.5 L634.5,869.3 L637.4,869.0 L640.2,868.6 L643.1,868.3 L645.9,867.8 L648.7,867.3 L651.5,866.8 L654.3,866.2 L657.1,865.6 L659.9,865.0 L662.7,864.2 L665.5,863.5 L668.2,862.7 L671.0,861.8 L673.7,860.9 L676.4,860.0 L679.0,859.0 L681.7,858.0 L684.4,856.9 L687.0,855.8 L689.6,854.7 L692.1,853.5 L694.7,852.2 L697.2,850.9 L699.7,849.6 L702.2,848.2 L704.7,846.8 L707.1,845.4 L709.5,843.9 L711.8,842.4 L714.2,840.8 L716.5,839.2 L718.7,837.5 L721.0,835.8 L723.2,834.1 L725.3,832.3 L727.5,830.5 L729.6,828.7 L731.6,826.8 L733.6,824.9 L735.6,822.9 L737.5,820.9 L739.4,818.8 L741.3,816.8 L743.1,814.7 L744.8,812.5 L746.5,810.3 L748.2,808.1 L749.8,805.8 L751.4,803.5 L753.0,801.2 L754.5,798.9 L755.9,796.5 L757.3,794.1 L758.7,791.6 L760.0,789.1 L761.4,786.6 L762.6,784.1 L763.9,781.6 L765.1,779.0 L766.2,776.4 L767.4,773.7 L768.5,771.1 L769.6,768.4 L770.6,765.7 L771.7,763.0 L772.7,760.3 L773.6,757.6 L774.6,754.8 L775.5,752.0 L776.4,749.2 L777.3,746.4 L778.2,743.6 L779.0,740.8 L779.9,738.0 L780.7,735.1 L781.5,732.3 L782.2,729.4 L783.0,726.5 L783.8,723.6 L784.5,720.8 L785.2,717.9 L786.0,715.0 L786.7,712.1 L787.4,709.2 L788.1,706.3 L788.8,703.4 L789.5,700.5 L790.1,697.6 L790.8,694.7 L791.5,691.8 L792.2,689.0 L792.9,686.1 L793.5,683.2 L794.2,680.4 L794.9,677.5 L795.6,674.7 L796.2,671.8 L796.9,669.0 L797.6,666.1 L798.3,663.3 L798.9,660.4 L799.6,657.6 L800.3,654.8 L800.9,652.0 L801.6,649.1 L802.3,646.3 L803.0,643.5 L803.6,640.7 L804.3,637.9 L805.0,635.1 L805.6,632.3 L806.3,629.5 L807.0,626.7 L807.6,624.0 L808.3,621.2 L808.9,618.4 L809.6,615.6 L810.3,612.8 L810.9,610.1 L811.6,607.3 L812.3,604.5 L812.9,601.8 L813.6,599.0 L814.2,596.2 L814.9,593.5 L815.6,590.7 L816.2,588.0 L816.9,585.2 L817.5,582.4 L818.2,579.7 L818.8,576.9 L819.5,574.2 L820.2,571.4 L820.8,568.7 L821.5,566.0 L822.1,563.2 L822.8,560.5 L823.4,557.7 L824.1,555.0 L824.7,552.3 L825.4,549.5 L826.1,546.8 L826.7,544.0 L827.4,541.3 L828.0,538.6 L828.7,535.8 L829.3,533.1 L830.0,530.3 L830.6,527.6 L831.3,524.9 L831.9,522.1 L832.6,519.4 L833.3,516.7 L833.9,513.9 L834.6,511.2 L835.2,508.4 L835.9,505.7 L836.5,503.0 L837.2,500.2 L837.8,497.5 L838.5,494.7 L839.1,492.0 L839.8,489.2 L840.4,486.5 L841.1,483.7 L841.7,481.0 L842.4,478.2 L843.1,475.5 L843.7,472.7 L844.4,469.9 L845.0,467.2 L845.7,464.4 L846.3,461.7 L847.0,458.9 L847.6,456.1 L848.3,453.3 L848.9,450.6 L849.6,447.8 L850.3,445.0 L850.9,442.2 L851.6,439.4 L852.2,436.6 L852.9,433.8 L853.5,431.1 L854.2,428.3 L854.8,425.5 L855.5,422.6 L856.2,419.8 L856.8,417.0 L857.5,414.2 L858.1,411.4 L858.8,408.6 L859.5,405.7 L860.1,402.9 L860.8,400.1 L861.5,397.3 L862.1,394.4 L862.8,391.6 L863.5,388.8 L864.2,385.9 L864.8,383.1 L865.5,380.3 L866.2,377.4 L866.9,374.6 L867.6,371.8 L868.3,368.9 L869.0,366.1 L869.7,363.3 L870.4,360.4 L871.2,357.6 L871.9,354.8 L872.6,352.0 L873.3,349.1 L874.1,346.3 L874.8,343.5 L875.6,340.7 L876.4,337.9 L877.1,335.1 L877.9,332.3 L878.7,329.5 L879.5,326.7 L880.3,324.0 L881.1,321.2 L881.9,318.4 L882.7,315.7 L883.6,312.9 L884.4,310.2 L885.2,307.4 L886.1,304.7 L887.0,302.0 L887.9,299.2 L888.7,296.5 L889.6,293.8 L890.6,291.1 L891.5,288.4 L892.4,285.8 L893.4,283.1 L894.3,280.4 L895.3,277.8 L896.3,275.1 L897.2,272.5 L898.2,269.9 L899.3,267.3 L900.3,264.6 L901.3,262.0 L902.4,259.4 L903.4,256.9 L904.5,254.3 L905.6,251.7 L906.7,249.1 L907.8,246.5 L908.9,244.0 L910.0,241.4 L911.1,238.9 L912.3,236.3 L913.4,233.8 L914.6,231.2 L915.8,228.7 L917.0,226.1 L918.2,223.6 L919.4,221.1 L920.6,218.5 L921.8,216.0 L923.1,213.5 L924.3,210.9 L925.6,208.4 L926.9,205.9 L928.2,203.3 L929.5,200.8 L930.8,198.3 L932.1,195.7 L933.5,193.2 L934.8,190.7 L936.2,188.1 L937.5,185.6 L938.9,183.1 L940.3,180.5 L941.7,178.0 L943.1,175.4 L944.5,172.9 L946.0,170.3 L947.4,167.8 L948.9,165.2 L950.4,162.7 L951.9,160.1 L953.4,157.6 L955.0,155.1 L956.5,152.6 L958.1,150.1 L959.8,147.6 L961.5,145.2 L963.2,142.8 L964.9,140.5 L966.7,138.2 L968.6,135.9 L970.5,133.6 L972.4,131.5 L974.4,129.3 L976.5,127.3 L978.6,125.2 L980.8,123.3 L983.0,121.4 L985.3,119.6 L987.7,117.9 L990.1,116.4 L992.5,115.0 L994.9,113.8 L997.4,112.8 L999.9,112.0 L1002.5,111.4 L1005.0,111.2 L1007.5,111.2 L1010.1,111.4 L1012.6,111.9 L1015.0,112.7 L1017.4,113.7 L1019.8,115.0 L1022.0,116.4 L1024.2,118.1 L1026.2,120.0 L1028.2,122.0 L1030.1,124.2 L1031.9,126.6 L1033.6,129.1 L1034.4,130.3 L1035.2,131.6 L1035.9,133.0 L1036.7,134.3 L1037.4,135.7 L1038.1,137.0 L1038.8,138.4 L1039.4,139.8 L1040.0,141.2 L1040.6,142.6 L1041.2,144.0 L1041.8,145.5 L1042.3,146.9 L1042.8,148.3 L1043.3,149.7 L1044.3,152.5 L1045.2,155.4 L1046.0,158.2 L1046.7,161.1 L1047.5,163.9 L1048.2,166.7 L1048.8,169.6 L1049.5,172.4 L1050.1,175.2 L1050.7,178.1 L1051.3,180.9 L1052.0,183.7 L1052.6,186.5 L1053.2,189.3 L1053.8,192.1 L1054.4,194.9 L1055.0,197.7 L1055.6,200.4 L1056.2,203.2 L1056.8,206.0 L1057.4,208.8 L1058.0,211.5 L1058.5,214.3 L1059.1,217.1 L1059.7,219.8 L1060.3,222.6 L1060.8,225.4 L1061.4,228.1 L1062.0,230.9 L1062.5,233.7 L1063.1,236.5 L1063.6,239.2 L1064.2,242.0 L1064.7,244.8 L1065.3,247.6 L1065.8,250.4 L1066.3,253.1 L1066.9,255.9 L1067.4,258.7 L1067.9,261.5 L1068.4,264.3 L1068.9,267.1 L1069.5,269.9 L1070.0,272.7 L1070.5,275.5 L1071.0,278.3 L1071.5,281.1 L1072.0,283.9 L1072.5,286.7 L1073.0,289.5 L1073.5,292.3 L1073.9,295.1 L1074.4,297.9 L1074.9,300.8 L1075.4,303.6 L1075.9,306.4 L1076.3,309.2 L1076.8,312.0 L1077.3,314.8 L1077.8,317.7 L1078.2,320.5 L1078.7,323.3 L1079.1,326.1 L1079.6,329.0 L1080.1,331.8 L1080.5,334.6 L1081.0,337.4 L1081.4,340.3 L1081.9,343.1 L1082.3,345.9 L1082.8,348.8 L1083.2,351.6 L1083.6,354.4 L1084.1,357.3 L1084.5,360.1 L1084.9,362.9 L1085.4,365.8 L1085.8,368.6 L1086.2,371.4 L1086.7,374.3 L1087.1,377.1 L1087.5,379.9 L1087.9,382.8 L1088.4,385.6 L1088.8,388.5 L1089.2,391.3 L1089.6,394.1 L1090.0,397.0 L1090.5,399.8 L1090.9,402.7 L1091.3,405.5 L1091.7,408.3 L1092.1,411.2 L1092.5,414.0 L1092.9,416.9 L1093.4,419.7 L1093.8,422.6 L1094.2,425.4 L1094.6,428.2 L1095.0,431.1 L1095.4,433.9 L1095.8,436.8 L1096.2,439.6 L1096.6,442.5 L1097.0,445.3 L1097.4,448.1 L1097.8,451.0 L1098.2,453.8 L1098.6,456.7 L1099.0,459.5 L1099.4,462.3 L1099.8,465.2 L1100.2,468.0 L1100.6,470.9 L1101.0,473.7 L1101.4,476.5 L1101.8,479.4 L1102.3,482.2 L1102.7,485.0 L1103.1,487.9 L1103.5,490.7 L1103.9,493.5 L1104.3,496.4 L1104.7,499.2 L1105.1,502.0 L1105.5,504.9 L1105.9,507.7 L1106.3,510.5 L1106.7,513.3 L1107.1,516.2 L1107.5,519.0 L1107.9,521.8 L1108.3,524.7 L1108.7,527.5 L1109.1,530.3 L1109.6,533.1 L1110.0,535.9 L1110.4,538.8 L1110.8,541.6 L1111.2,544.4 L1111.6,547.2 L1112.0,550.1 L1112.5,552.9 L1112.9,555.7 L1113.3,558.5 L1113.7,561.3 L1114.2,564.1 L1114.6,567.0 L1115.0,569.8 L1115.4,572.6 L1115.9,575.4 L1116.3,578.2 L1116.7,581.0 L1117.2,583.9 L1117.6,586.7 L1118.0,589.5 L1118.5,592.3 L1118.9,595.1 L1119.4,597.9 L1119.8,600.7 L1120.2,603.6 L1120.7,606.4 L1121.1,609.2 L1121.6,612.0 L1122.1,614.8 L1122.5,617.6 L1123.0,620.4 L1123.4,623.3 L1123.9,626.1 L1124.4,628.9 L1124.8,631.7 L1125.3,634.5 L1125.8,637.3 L1126.2,640.1 L1126.7,643.0 L1127.2,645.8 L1127.7,648.6 L1128.2,651.4 L1128.7,654.2 L1129.2,657.0 L1129.7,659.8 L1130.2,662.7 L1130.7,665.5 L1131.2,668.3 L1131.7,671.1 L1132.2,673.9 L1132.7,676.7 L1133.2,679.6 L1133.7,682.4 L1134.2,685.2 L1134.8,688.0 L1135.3,690.8 L1135.8,693.7 L1136.4,696.5 L1136.9,699.3 L1137.4,702.1 L1138.0,704.9 L1138.5,707.8 L1139.1,710.6 L1139.6,713.4 L1140.2,716.2 L1140.8,719.1 L1141.3,721.9 L1141.9,724.7 L1142.5,727.5 L1143.0,730.4 L1143.6,733.2 L1144.2,736.0 L1144.8,738.9 L1145.4,741.7 L1146.0,744.5 L1146.6,747.4 L1147.2,750.2 L1147.8,753.0 L1148.4,755.9 L1149.0,758.7 L1149.7,761.5 L1150.3,764.4 L1150.9,767.2 L1151.6,770.1 L1152.2,772.9 L1152.8,775.7 L1153.5,778.6 L1154.2,781.4 L1154.8,784.2 L1155.5,787.1 L1156.2,789.9 L1157.0,792.7 L1157.7,795.5 L1158.5,798.3 L1159.3,801.1 L1160.1,803.8 L1161.0,806.6 L1161.9,809.3 L1162.8,812.0 L1163.8,814.7 L1164.8,817.4 L1165.8,820.1 L1166.9,822.7 L1168.0,825.3 L1169.2,827.8 L1170.5,830.4 L1171.7,832.9 L1173.1,835.4 L1174.5,837.8 L1175.9,840.2 L1177.5,842.6 L1179.0,844.9 L1180.7,847.2 L1182.4,849.4 L1184.1,851.5 L1186.0,853.6 L1187.8,855.6 L1189.8,857.5 L1191.8,859.3 L1193.9,861.0 L1196.0,862.7 L1198.2,864.2 L1200.5,865.6 L1202.8,867.0 L1205.2,868.2 L1207.6,869.3 L1210.1,870.4 L1212.6,871.3 L1215.2,872.1 L1217.8,872.9 L1220.4,873.5 L1223.1,874.1 L1225.8,874.6 L1228.5,875.0 L1231.2,875.4 L1234.0,875.7 L1236.7,875.9 L1239.5,876.1 L1242.3,876.2 L1245.1,876.2 L1248.0,876.2 L1250.8,876.2 L1253.6,876.1 L1256.5,876.0 L1259.3,875.8 L1262.2,875.6 L1265.1,875.4 L1268.0,875.1 L1270.8,874.9 L1273.7,874.6 L1276.6,874.3 L1279.5,874.0 L1282.3,873.7 L1285.2,873.4 L1288.1,873.1 L1290.9,872.8 L1293.8,872.5 L1296.6,872.3 L1299.4,872.0 L1302.3,871.8 L1305.1,871.5 L1307.9,871.3 L1310.7,871.1 L1313.5,871.0 L1316.3,870.8 L1319.1,870.6 L1321.9,870.5 L1324.7,870.4 L1327.5,870.3 L1330.3,870.2 L1333.2,870.1 L1336.0,870.1 L1338.9,870.0 L1341.7,870.0 L1344.6,870.0 L1347.5,870.0 L1350.4,870.0 L1353.3,870.0 L1356.2,870.1 L1359.2,870.1 L1362.2,870.2 L1362.2,870.2" fill="none" stroke="#FF00FF" stroke-width="5.6" stroke-linejoin="round" stroke-linecap="round"/>
<path d="M341.1,865.8 L343.5,865.9 L346.0,865.9 L348.4,866.0 L350.8,866.0 L353.2,866.1 L355.7,866.1 L358.1,866.1 L360.6,866.1 L363.0,866.2 L365.4,866.2 L367.9,866.2 L370.3,866.2 L372.8,866.2 L375.3,866.2 L377.7,866.2 L380.2,866.2 L382.6,866.2 L385.1,866.2 L387.6,866.2 L390.0,866.2 L392.5,866.2 L395.0,866.2 L397.4,866.2 L399.9,866.2 L402.4,866.2 L404.8,866.2 L407.3,866.1 L409.8,866.1 L412.3,866.1 L414.7,866.1 L417.2,866.1 L419.7,866.1 L422.1,866.1 L424.6,866.1 L427.1,866.0 L429.5,866.0 L432.0,866.0 L434.5,866.0 L436.9,866.0 L439.4,866.0 L441.9,866.0 L444.3,866.0 L446.8,866.0 L449.2,866.0 L451.7,866.0 L454.1,866.0 L456.6,866.0 L459.0,866.0 L461.5,866.0 L463.9,866.0 L466.3,866.1 L468.8,866.1 L471.2,866.1 L473.6,866.1 L476.0,866.2 L478.5,866.2 L480.9,866.2 L483.3,866.3 L485.7,866.3 L488.1,866.4 L490.6,866.4 L493.0,866.5 L495.4,866.5 L497.8,866.5 L500.3,866.6 L502.7,866.6 L505.1,866.7 L507.6,866.8 L510.0,866.8 L512.4,866.9 L514.9,866.9 L517.4,867.0 L519.8,867.0 L522.3,867.1 L524.8,867.1 L527.3,867.2 L529.7,867.2 L532.3,867.3 L534.8,867.3 L537.3,867.3 L539.8,867.4 L542.3,867.4 L544.9,867.4 L547.4,867.4 L549.9,867.3 L552.4,867.3 L554.9,867.2 L557.5,867.1 L560.0,867.0 L562.4,866.8 L564.9,866.6 L567.4,866.4 L569.8,866.1 L572.3,865.8 L574.7,865.4 L577.1,865.0 L579.4,864.5 L581.8,864.0 L584.1,863.5 L586.4,862.8 L588.7,862.1 L590.9,861.4 L593.1,860.6 L595.3,859.7 L597.5,858.8 L599.6,857.8 L601.7,856.7 L603.7,855.6 L605.8,854.5 L607.8,853.3 L609.8,852.0 L611.7,850.7 L613.6,849.3 L615.5,847.9 L617.4,846.5 L619.2,845.0 L621.1,843.4 L622.9,841.8 L624.6,840.2 L626.4,838.5 L628.1,836.8 L629.8,835.1 L631.5,833.3 L633.1,831.5 L634.8,829.7 L636.4,827.8 L637.9,825.9 L639.5,824.0 L641.0,822.0 L642.6,820.0 L644.1,818.0 L645.5,816.0 L647.0,814.0 L648.4,811.9 L649.8,809.8 L651.2,807.7 L652.6,805.6 L654.0,803.4 L655.3,801.3 L656.6,799.1 L657.9,796.9 L659.2,794.8 L660.5,792.6 L661.7,790.4 L662.9,788.2 L664.2,786.0 L665.4,783.8 L666.5,781.5 L667.7,779.3 L668.9,777.1 L670.0,774.9 L671.1,772.7 L672.2,770.5 L673.3,768.2 L674.4,766.0 L675.5,763.8 L676.5,761.5 L677.6,759.3 L678.6,757.1 L679.6,754.8 L680.6,752.6 L681.6,750.3 L682.6,748.1 L683.6,745.9 L684.5,743.6 L685.5,741.3 L686.4,739.1 L687.3,736.8 L688.2,734.6 L689.1,732.3 L690.0,730.1 L690.9,727.8 L691.8,725.5 L692.6,723.2 L693.5,721.0 L694.3,718.7 L695.2,716.4 L696.0,714.1 L696.8,711.9 L697.7,709.6 L698.5,707.3 L699.3,705.0 L700.1,702.7 L700.9,700.4 L701.6,698.1 L702.4,695.8 L703.2,693.5 L704.0,691.2 L704.7,688.9 L705.5,686.6 L706.2,684.3 L707.0,682.0 L707.7,679.7 L708.5,677.4 L709.2,675.1 L710.0,672.8 L710.7,670.5 L711.4,668.2 L712.1,665.8 L712.9,663.5 L713.6,661.2 L714.3,658.9 L715.0,656.5 L715.7,654.2 L716.4,651.9 L717.1,649.5 L717.8,647.2 L718.5,644.9 L719.2,642.5 L719.9,640.2 L720.6,637.8 L721.3,635.5 L721.9,633.1 L722.6,630.8 L723.3,628.4 L724.0,626.1 L724.6,623.7 L725.3,621.4 L725.9,619.0 L726.6,616.7 L727.3,614.3 L727.9,611.9 L728.5,609.6 L729.2,607.2 L729.8,604.8 L730.5,602.4 L731.1,600.1 L731.7,597.7 L732.3,595.3 L733.0,592.9 L733.6,590.5 L734.2,588.2 L734.8,585.8 L735.4,583.4 L736.0,581.0 L736.6,578.6 L737.2,576.2 L737.8,573.8 L738.4,571.4 L739.0,569.0 L739.6,566.6 L740.2,564.2 L740.7,561.8 L741.3,559.4 L741.9,557.0 L742.5,554.5 L743.0,552.1 L743.6,549.7 L744.2,547.3 L744.7,544.9 L745.3,542.5 L745.8,540.0 L746.4,537.6 L747.0,535.2 L747.5,532.8 L748.1,530.3 L748.6,527.9 L749.2,525.5 L749.7,523.1 L750.3,520.7 L750.8,518.2 L751.4,515.8 L751.9,513.4 L752.5,511.0 L753.0,508.6 L753.6,506.2 L754.1,503.7 L754.7,501.3 L755.2,498.9 L755.8,496.5 L756.3,494.1 L756.9,491.7 L757.4,489.3 L758.0,486.9 L758.6,484.5 L759.1,482.1 L759.7,479.8 L760.3,477.4 L760.8,475.0 L761.4,472.6 L762.0,470.2 L762.6,467.9 L763.1,465.5 L763.7,463.2 L764.3,460.8 L764.9,458.5 L765.5,456.1 L766.1,453.8 L766.7,451.4 L767.3,449.1 L767.9,446.8 L768.6,444.5 L769.2,442.1 L769.8,439.8 L770.4,437.5 L771.1,435.2 L771.7,432.9 L772.3,430.6 L773.0,428.3 L773.6,426.0 L774.3,423.7 L774.9,421.4 L775.6,419.1 L776.3,416.8 L776.9,414.6 L777.6,412.3 L778.3,410.0 L778.9,407.7 L779.6,405.4 L780.3,403.1 L781.0,400.8 L781.6,398.5 L782.3,396.2 L783.0,393.9 L783.7,391.5 L784.4,389.2 L785.1,386.9 L785.8,384.6 L786.5,382.2 L787.2,379.9 L787.9,377.6 L788.6,375.2 L789.3,372.9 L790.0,370.5 L790.7,368.1 L791.4,365.8 L792.1,363.4 L792.8,361.0 L793.5,358.6 L794.3,356.2 L795.0,353.8 L795.7,351.3 L796.4,348.9 L797.1,346.5 L797.8,344.0 L798.6,341.5 L799.3,339.1 L800.0,336.6 L800.7,334.1 L801.4,331.5 L802.2,329.0 L802.9,326.5 L803.6,324.0 L804.4,321.4 L805.2,318.9 L806.0,316.4 L806.8,313.9 L807.6,311.4 L808.5,308.9 L809.4,306.5 L810.3,304.0 L811.3,301.6 L812.3,299.2 L813.3,296.9 L814.4,294.6 L815.5,292.3 L816.7,290.0 L817.9,287.8 L819.2,285.6 L820.6,283.5 L821.9,281.4 L823.4,279.4 L824.9,277.5 L826.5,275.6 L828.1,273.8 L829.7,272.0 L831.4,270.4 L833.2,268.8 L835.0,267.4 L836.8,266.0 L838.7,264.8 L840.6,263.7 L842.6,262.7 L844.6,261.8 L846.6,261.1 L848.7,260.5 L850.8,260.0 L852.9,259.7 L855.1,259.6 L857.3,259.6 L859.5,259.7 L861.7,260.0 L863.9,260.4 L866.1,261.0 L868.4,261.7 L870.6,262.4 L872.8,263.3 L875.0,264.3 L877.2,265.4 L879.4,266.6 L881.6,267.9 L883.7,269.3 L885.9,270.7 L887.9,272.2 L890.0,273.8 L892.0,275.4 L893.9,277.1 L895.9,278.8 L897.7,280.6 L899.5,282.4 L901.2,284.3 L902.9,286.1 L904.6,288.1 L906.2,290.0 L907.7,292.0 L909.2,294.0 L910.7,296.0 L912.2,298.0 L913.6,300.1 L914.9,302.2 L916.3,304.3 L917.6,306.4 L918.9,308.6 L920.1,310.7 L921.4,312.9 L922.6,315.0 L923.8,317.2 L925.0,319.4 L926.2,321.6 L927.4,323.8 L928.6,325.9 L929.8,328.1 L931.0,330.3 L932.1,332.5 L933.3,334.6 L934.5,336.8 L935.7,339.0 L936.9,341.1 L938.1,343.3 L939.2,345.4 L940.4,347.6 L941.6,349.7 L942.8,351.9 L944.0,354.0 L945.1,356.1 L946.3,358.3 L947.5,360.4 L948.7,362.6 L949.8,364.7 L951.0,366.8 L952.2,368.9 L953.3,371.1 L954.5,373.2 L955.7,375.3 L956.8,377.5 L958.0,379.6 L959.1,381.7 L960.3,383.9 L961.4,386.0 L962.6,388.1 L963.7,390.3 L964.9,392.4 L966.0,394.5 L967.1,396.7 L968.3,398.8 L969.4,401.0 L970.5,403.1 L971.6,405.2 L972.7,407.4 L973.8,409.6 L974.9,411.7 L976.0,413.9 L977.1,416.0 L978.2,418.2 L979.2,420.4 L980.3,422.6 L981.4,424.7 L982.4,426.9 L983.5,429.1 L984.5,431.3 L985.5,433.5 L986.6,435.7 L987.6,437.9 L988.6,440.2 L989.6,442.4 L990.6,444.6 L991.6,446.8 L992.6,449.1 L993.6,451.3 L994.5,453.6 L995.5,455.8 L996.4,458.1 L997.4,460.3 L998.3,462.6 L999.3,464.9 L1000.2,467.2 L1001.1,469.4 L1002.1,471.7 L1003.0,474.0 L1003.9,476.3 L1004.8,478.6 L1005.7,480.9 L1006.6,483.2 L1007.4,485.5 L1008.3,487.8 L1009.2,490.1 L1010.0,492.5 L1010.9,494.8 L1011.8,497.1 L1012.6,499.4 L1013.4,501.8 L1014.3,504.1 L1015.1,506.4 L1015.9,508.8 L1016.7,511.1 L1017.6,513.5 L1018.4,515.8 L1019.2,518.2 L1020.0,520.5 L1020.7,522.9 L1021.5,525.2 L1022.3,527.6 L1023.1,529.9 L1023.8,532.3 L1024.6,534.7 L1025.4,537.0 L1026.1,539.4 L1026.9,541.8 L1027.6,544.1 L1028.3,546.5 L1029.1,548.9 L1029.8,551.3 L1030.5,553.6 L1031.2,556.0 L1031.9,558.4 L1032.6,560.8 L1033.3,563.1 L1034.0,565.5 L1034.7,567.9 L1035.4,570.3 L1036.1,572.7 L1036.8,575.0 L1037.5,577.4 L1038.1,579.8 L1038.8,582.2 L1039.4,584.6 L1040.1,586.9 L1040.8,589.3 L1041.4,591.7 L1042.0,594.1 L1042.7,596.5 L1043.3,598.8 L1043.9,601.2 L1044.6,603.6 L1045.2,606.0 L1045.8,608.3 L1046.4,610.7 L1047.0,613.1 L1047.6,615.5 L1048.2,617.8 L1048.8,620.2 L1049.4,622.6 L1050.0,624.9 L1050.6,627.3 L1051.2,629.7 L1051.8,632.0 L1052.4,634.4 L1052.9,636.7 L1053.5,639.1 L1054.1,641.4 L1054.6,643.8 L1055.2,646.1 L1055.8,648.5 L1056.3,650.8 L1056.9,653.1 L1057.4,655.5 L1058.0,657.8 L1058.5,660.1 L1059.0,662.5 L1059.6,664.8 L1060.1,667.1 L1060.6,669.4 L1061.2,671.8 L1061.7,674.1 L1062.2,676.4 L1062.8,678.7 L1063.3,681.1 L1063.8,683.4 L1064.3,685.7 L1064.9,688.0 L1065.4,690.3 L1065.9,692.7 L1066.4,695.0 L1067.0,697.3 L1067.5,699.6 L1068.0,702.0 L1068.6,704.3 L1069.1,706.7 L1069.6,709.0 L1070.2,711.3 L1070.7,713.7 L1071.2,716.0 L1071.8,718.4 L1072.3,720.8 L1072.9,723.1 L1073.5,725.5 L1074.0,727.9 L1074.6,730.3 L1075.1,732.7 L1075.7,735.1 L1076.3,737.5 L1076.9,739.9 L1077.5,742.3 L1078.1,744.7 L1078.7,747.2 L1079.3,749.6 L1079.9,752.1 L1080.5,754.5 L1081.1,757.0 L1081.8,759.5 L1082.4,761.9 L1083.0,764.4 L1083.7,766.9 L1084.4,769.5 L1085.0,772.0 L1085.7,774.5 L1086.4,777.1 L1087.1,779.6 L1087.8,782.2 L1088.5,784.7 L1089.3,787.2 L1090.0,789.8 L1090.8,792.3 L1091.6,794.8 L1092.4,797.3 L1093.3,799.8 L1094.1,802.3 L1095.0,804.7 L1095.9,807.2 L1096.8,809.6 L1097.8,812.0 L1098.8,814.3 L1099.8,816.7 L1100.8,819.0 L1101.9,821.2 L1103.0,823.5 L1104.2,825.7 L1105.3,827.8 L1106.6,829.9 L1107.8,832.0 L1109.1,834.0 L1110.4,836.0 L1111.8,837.9 L1113.2,839.8 L1114.6,841.6 L1116.1,843.3 L1117.7,845.0 L1119.3,846.7 L1120.9,848.2 L1122.6,849.8 L1124.3,851.2 L1126.1,852.6 L1127.9,853.8 L1129.8,855.1 L1131.7,856.2 L1133.7,857.3 L1135.8,858.2 L1137.9,859.1 L1140.0,860.0 L1142.2,860.7 L1144.5,861.4 L1146.8,862.0 L1149.1,862.6 L1151.5,863.1 L1153.9,863.5 L1156.3,863.9 L1158.8,864.2 L1161.3,864.5 L1163.8,864.8 L1166.3,865.0 L1168.8,865.1 L1171.3,865.3 L1173.9,865.4 L1176.4,865.5 L1179.0,865.6 L1181.5,865.7 L1184.1,865.7 L1186.6,865.8 L1189.1,865.8 L1191.6,865.9 L1194.1,865.9 L1196.6,865.9 L1199.1,866.0 L1201.6,866.0 L1204.1,866.0 L1206.5,866.0 L1209.0,866.0 L1211.4,866.1 L1213.8,866.1 L1216.3,866.1 L1218.7,866.1 L1221.1,866.1 L1223.6,866.1 L1226.0,866.2 L1228.4,866.2 L1230.8,866.2 L1233.2,866.2 L1235.7,866.3 L1238.1,866.3 L1240.5,866.3 L1242.9,866.4 L1245.4,866.4 L1247.8,866.5 L1250.2,866.5 L1252.7,866.6 L1255.1,866.6 L1257.5,866.7 L1260.0,866.8 L1262.4,866.8 L1264.9,866.9 L1267.3,867.0 L1269.8,867.0 L1272.2,867.1 L1274.7,867.2 L1277.2,867.3 L1279.6,867.4 L1282.1,867.4 L1284.5,867.5 L1287.0,867.6 L1289.5,867.7 L1291.9,867.7 L1294.4,867.8 L1296.9,867.9 L1299.3,867.9 L1301.8,868.0 L1304.3,868.0 L1306.7,868.1 L1309.2,868.2 L1311.7,868.2 L1314.1,868.2 L1316.6,868.3 L1319.1,868.3 L1321.5,868.3 L1324.0,868.3 L1326.5,868.3 L1328.9,868.3 L1331.4,868.3 L1333.8,868.3 L1336.3,868.3 L1338.7,868.3 L1341.2,868.2 L1343.6,868.2 L1346.1,868.1 L1348.5,868.1 L1351.0,868.0 L1353.4,867.9 L1355.9,867.8 L1358.3,867.7 L1360.7,867.5 L1361.9,867.5" fill="none" stroke="#008000" stroke-width="5.6" stroke-linejoin="round" stroke-linecap="round"/>
<path d="M340.9,862.3 L343.5,862.4 L346.0,862.5 L348.6,862.6 L351.1,862.7 L353.7,862.8 L356.2,862.9 L358.8,863.0 L361.3,863.1 L363.8,863.1 L366.4,863.2 L368.9,863.3 L371.4,863.3 L373.9,863.4 L376.5,863.5 L379.0,863.5 L381.5,863.6 L384.0,863.6 L386.5,863.7 L389.0,863.7 L391.5,863.8 L394.1,863.8 L396.6,863.8 L399.1,863.9 L401.6,863.9 L404.1,864.0 L406.6,864.0 L409.1,864.0 L411.6,864.1 L414.1,864.1 L416.6,864.2 L419.1,864.2 L421.6,864.3 L424.1,864.3 L426.6,864.4 L429.1,864.4 L431.7,864.5 L434.2,864.5 L436.7,864.6 L439.2,864.6 L441.7,864.7 L444.2,864.7 L446.7,864.8 L449.3,864.9 L451.8,865.0 L454.3,865.0 L456.8,865.1 L459.4,865.2 L461.9,865.3 L464.4,865.4 L467.0,865.5 L469.5,865.6 L472.0,865.7 L474.6,865.8 L477.1,865.9 L479.7,866.1 L482.2,866.2 L484.8,866.3 L487.3,866.4 L489.9,866.5 L492.5,866.6 L495.0,866.7 L497.6,866.8 L500.1,866.8 L502.7,866.9 L505.2,866.9 L507.7,867.0 L510.3,867.0 L512.8,867.0 L515.4,867.0 L517.9,867.0 L520.4,866.9 L522.9,866.8 L525.5,866.7 L528.0,866.6 L530.5,866.5 L533.0,866.3 L535.5,866.1 L537.9,865.9 L540.4,865.6 L542.9,865.4 L545.4,865.1 L547.8,864.7 L550.3,864.4 L552.7,864.0 L555.2,863.5 L557.6,863.1 L560.0,862.6 L562.4,862.0 L564.8,861.5 L567.2,860.9 L569.6,860.2 L572.0,859.6 L574.3,858.8 L576.7,858.1 L579.0,857.3 L581.4,856.5 L583.7,855.6 L586.0,854.7 L588.3,853.8 L590.6,852.8 L592.9,851.8 L595.1,850.7 L597.4,849.6 L599.6,848.5 L601.9,847.3 L604.1,846.1 L606.3,844.9 L608.5,843.6 L610.6,842.3 L612.8,841.0 L614.9,839.6 L617.1,838.2 L619.2,836.8 L621.3,835.3 L623.3,833.8 L625.4,832.3 L627.5,830.8 L629.5,829.2 L631.5,827.6 L633.5,826.0 L635.4,824.3 L637.4,822.6 L639.3,820.9 L641.2,819.2 L643.1,817.5 L645.0,815.7 L646.9,813.9 L648.7,812.1 L650.5,810.3 L652.3,808.4 L654.1,806.6 L655.8,804.7 L657.5,802.8 L659.2,800.9 L660.9,798.9 L662.5,797.0 L664.2,795.0 L665.8,793.0 L667.3,791.0 L668.9,789.0 L670.4,787.0 L671.9,784.9 L673.4,782.9 L674.8,780.8 L676.2,778.7 L677.6,776.7 L679.0,774.6 L680.4,772.5 L681.7,770.3 L683.0,768.2 L684.3,766.1 L685.5,763.9 L686.8,761.8 L688.0,759.6 L689.2,757.4 L690.3,755.2 L691.5,753.0 L692.6,750.8 L693.8,748.6 L694.9,746.4 L696.0,744.2 L697.0,742.0 L698.1,739.7 L699.1,737.5 L700.2,735.2 L701.2,732.9 L702.2,730.7 L703.1,728.4 L704.1,726.1 L705.1,723.8 L706.0,721.5 L707.0,719.2 L707.9,716.9 L708.8,714.6 L709.7,712.3 L710.6,709.9 L711.5,707.6 L712.4,705.3 L713.2,702.9 L714.1,700.6 L714.9,698.2 L715.8,695.9 L716.6,693.5 L717.5,691.2 L718.3,688.8 L719.1,686.5 L720.0,684.1 L720.8,681.7 L721.6,679.4 L722.4,677.0 L723.2,674.6 L724.1,672.2 L724.9,669.9 L725.7,667.5 L726.5,665.1 L727.3,662.7 L728.1,660.3 L728.9,657.9 L729.7,655.5 L730.5,653.1 L731.3,650.7 L732.1,648.3 L732.9,646.0 L733.7,643.6 L734.5,641.2 L735.2,638.7 L736.0,636.3 L736.8,633.9 L737.6,631.5 L738.4,629.1 L739.1,626.7 L739.9,624.3 L740.7,621.9 L741.5,619.5 L742.2,617.1 L743.0,614.6 L743.8,612.2 L744.5,609.8 L745.3,607.4 L746.1,605.0 L746.8,602.5 L747.6,600.1 L748.4,597.7 L749.1,595.3 L749.9,592.9 L750.6,590.4 L751.4,588.0 L752.1,585.6 L752.9,583.1 L753.6,580.7 L754.4,578.3 L755.1,575.9 L755.9,573.4 L756.6,571.0 L757.3,568.6 L758.1,566.1 L758.8,563.7 L759.6,561.3 L760.3,558.8 L761.0,556.4 L761.8,554.0 L762.5,551.5 L763.2,549.1 L764.0,546.7 L764.7,544.2 L765.4,541.8 L766.2,539.4 L766.9,536.9 L767.6,534.5 L768.4,532.1 L769.1,529.6 L769.8,527.2 L770.5,524.8 L771.3,522.3 L772.0,519.9 L772.7,517.5 L773.4,515.0 L774.2,512.6 L774.9,510.2 L775.6,507.8 L776.3,505.3 L777.0,502.9 L777.8,500.5 L778.5,498.0 L779.2,495.6 L779.9,493.2 L780.6,490.8 L781.3,488.3 L782.1,485.9 L782.8,483.5 L783.5,481.1 L784.2,478.6 L784.9,476.2 L785.6,473.8 L786.4,471.4 L787.1,469.0 L787.8,466.6 L788.5,464.1 L789.2,461.7 L789.9,459.3 L790.6,456.9 L791.4,454.5 L792.1,452.1 L792.8,449.7 L793.5,447.3 L794.2,444.9 L794.9,442.5 L795.6,440.1 L796.4,437.7 L797.1,435.3 L797.8,432.9 L798.5,430.5 L799.2,428.1 L799.9,425.7 L800.6,423.3 L801.4,420.9 L802.1,418.5 L802.8,416.1 L803.5,413.7 L804.2,411.3 L804.9,408.9 L805.6,406.5 L806.3,404.2 L807.0,401.8 L807.8,399.4 L808.5,397.0 L809.2,394.6 L809.9,392.2 L810.6,389.8 L811.3,387.4 L812.0,385.0 L812.7,382.6 L813.4,380.2 L814.1,377.8 L814.8,375.4 L815.5,373.0 L816.2,370.5 L816.9,368.1 L817.6,365.7 L818.3,363.3 L819.0,360.9 L819.7,358.5 L820.4,356.0 L821.1,353.6 L821.8,351.2 L822.5,348.7 L823.2,346.3 L823.9,343.9 L824.6,341.4 L825.3,339.0 L826.0,336.5 L826.7,334.1 L827.4,331.6 L828.0,329.2 L828.7,326.7 L829.4,324.2 L830.1,321.8 L830.8,319.3 L831.5,316.8 L832.2,314.4 L832.9,311.9 L833.6,309.4 L834.4,307.0 L835.1,304.5 L835.8,302.0 L836.6,299.6 L837.4,297.1 L838.1,294.7 L838.9,292.2 L839.7,289.8 L840.5,287.4 L841.4,284.9 L842.2,282.5 L843.1,280.1 L844.0,277.7 L844.9,275.3 L845.8,272.9 L846.7,270.5 L847.7,268.1 L848.7,265.8 L849.7,263.4 L850.7,261.1 L851.8,258.7 L852.8,256.4 L853.9,254.1 L855.1,251.8 L856.2,249.6 L857.4,247.3 L858.6,245.0 L859.9,242.8 L861.2,240.6 L862.5,238.4 L863.8,236.2 L865.2,234.0 L866.6,231.9 L868.1,229.7 L869.6,227.6 L871.1,225.5 L872.7,223.5 L874.3,221.4 L875.9,219.5 L877.6,217.6 L879.4,215.8 L881.1,214.0 L883.0,212.4 L884.9,210.9 L886.8,209.6 L888.8,208.4 L890.9,207.3 L893.1,206.4 L895.2,205.7 L897.5,205.2 L899.7,204.8 L902.1,204.6 L904.4,204.6 L906.7,204.7 L909.1,205.0 L911.5,205.4 L913.8,205.9 L916.2,206.7 L918.5,207.5 L920.9,208.5 L923.2,209.6 L925.5,210.8 L927.7,212.2 L929.9,213.6 L932.1,215.1 L934.3,216.6 L936.4,218.2 L938.4,219.9 L940.4,221.6 L942.3,223.4 L944.2,225.2 L946.1,227.0 L947.9,228.8 L949.6,230.7 L951.3,232.6 L953.0,234.6 L954.6,236.5 L956.2,238.5 L957.8,240.5 L959.4,242.5 L960.9,244.5 L962.4,246.6 L963.8,248.6 L965.3,250.7 L966.7,252.8 L968.0,254.8 L969.4,257.0 L970.7,259.1 L972.0,261.2 L973.3,263.4 L974.5,265.5 L975.8,267.7 L977.0,269.9 L978.2,272.1 L979.3,274.3 L980.5,276.5 L981.6,278.7 L982.7,281.0 L983.8,283.2 L984.8,285.5 L985.9,287.7 L986.9,290.0 L988.0,292.3 L989.0,294.6 L989.9,296.9 L990.9,299.2 L991.9,301.5 L992.8,303.8 L993.8,306.2 L994.7,308.5 L995.6,310.8 L996.5,313.2 L997.4,315.5 L998.3,317.9 L999.2,320.2 L1000.0,322.6 L1000.9,324.9 L1001.8,327.3 L1002.6,329.7 L1003.5,332.0 L1004.3,334.4 L1005.1,336.8 L1006.0,339.2 L1006.8,341.5 L1007.6,343.9 L1008.4,346.3 L1009.3,348.7 L1010.1,351.0 L1010.9,353.4 L1011.7,355.8 L1012.5,358.2 L1013.4,360.5 L1014.2,362.9 L1015.0,365.3 L1015.8,367.7 L1016.6,370.1 L1017.4,372.4 L1018.2,374.8 L1019.0,377.2 L1019.8,379.6 L1020.6,382.0 L1021.4,384.4 L1022.2,386.7 L1023.0,389.1 L1023.7,391.5 L1024.5,393.9 L1025.3,396.3 L1026.1,398.7 L1026.9,401.1 L1027.7,403.5 L1028.4,405.9 L1029.2,408.2 L1030.0,410.6 L1030.7,413.0 L1031.5,415.4 L1032.3,417.8 L1033.0,420.2 L1033.8,422.6 L1034.6,425.0 L1035.3,427.4 L1036.1,429.8 L1036.8,432.2 L1037.6,434.6 L1038.3,437.0 L1039.1,439.4 L1039.8,441.8 L1040.6,444.2 L1041.3,446.6 L1042.1,449.0 L1042.8,451.4 L1043.5,453.8 L1044.3,456.2 L1045.0,458.6 L1045.7,461.0 L1046.5,463.5 L1047.2,465.9 L1047.9,468.3 L1048.6,470.7 L1049.4,473.1 L1050.1,475.5 L1050.8,477.9 L1051.5,480.3 L1052.2,482.8 L1052.9,485.2 L1053.7,487.6 L1054.4,490.0 L1055.1,492.4 L1055.8,494.9 L1056.5,497.3 L1057.2,499.7 L1057.9,502.1 L1058.6,504.5 L1059.3,507.0 L1060.0,509.4 L1060.7,511.8 L1061.4,514.3 L1062.1,516.7 L1062.8,519.1 L1063.4,521.5 L1064.1,524.0 L1064.8,526.4 L1065.5,528.8 L1066.2,531.3 L1066.9,533.7 L1067.5,536.2 L1068.2,538.6 L1068.9,541.0 L1069.6,543.5 L1070.2,545.9 L1070.9,548.4 L1071.6,550.8 L1072.2,553.2 L1072.9,555.7 L1073.6,558.1 L1074.2,560.6 L1074.9,563.0 L1075.6,565.5 L1076.2,567.9 L1076.9,570.4 L1077.5,572.8 L1078.2,575.3 L1078.8,577.7 L1079.5,580.2 L1080.1,582.7 L1080.8,585.1 L1081.4,587.6 L1082.1,590.0 L1082.7,592.5 L1083.4,595.0 L1084.0,597.4 L1084.6,599.9 L1085.3,602.3 L1085.9,604.8 L1086.6,607.3 L1087.2,609.7 L1087.9,612.2 L1088.5,614.6 L1089.2,617.1 L1089.8,619.6 L1090.5,622.0 L1091.1,624.5 L1091.8,627.0 L1092.4,629.4 L1093.1,631.9 L1093.7,634.3 L1094.4,636.8 L1095.1,639.2 L1095.7,641.7 L1096.4,644.1 L1097.1,646.6 L1097.8,649.0 L1098.5,651.5 L1099.1,653.9 L1099.8,656.4 L1100.5,658.8 L1101.2,661.3 L1101.9,663.7 L1102.6,666.1 L1103.4,668.6 L1104.1,671.0 L1104.8,673.4 L1105.5,675.9 L1106.3,678.3 L1107.0,680.7 L1107.7,683.1 L1108.5,685.5 L1109.3,687.9 L1110.0,690.3 L1110.8,692.8 L1111.6,695.2 L1112.4,697.6 L1113.1,699.9 L1113.9,702.3 L1114.7,704.7 L1115.6,707.1 L1116.4,709.5 L1117.2,711.9 L1118.1,714.2 L1118.9,716.6 L1119.8,719.0 L1120.6,721.3 L1121.5,723.7 L1122.4,726.0 L1123.3,728.4 L1124.2,730.7 L1125.1,733.1 L1126.0,735.4 L1126.9,737.7 L1127.9,740.0 L1128.8,742.4 L1129.8,744.7 L1130.7,747.0 L1131.7,749.3 L1132.7,751.6 L1133.7,753.9 L1134.7,756.1 L1135.8,758.4 L1136.8,760.7 L1137.8,763.0 L1138.9,765.2 L1140.0,767.5 L1141.1,769.7 L1142.2,772.0 L1143.3,774.2 L1144.4,776.4 L1145.5,778.6 L1146.7,780.9 L1147.8,783.1 L1149.0,785.3 L1150.2,787.5 L1151.4,789.6 L1152.6,791.8 L1153.9,794.0 L1155.1,796.2 L1156.4,798.3 L1157.7,800.5 L1158.9,802.6 L1160.3,804.7 L1161.6,806.9 L1162.9,809.0 L1164.3,811.1 L1165.7,813.2 L1167.1,815.2 L1168.5,817.3 L1169.9,819.3 L1171.4,821.3 L1172.9,823.3 L1174.4,825.3 L1176.0,827.2 L1177.6,829.1 L1179.2,831.0 L1180.9,832.8 L1182.6,834.6 L1184.3,836.4 L1186.1,838.1 L1187.9,839.8 L1189.7,841.4 L1191.6,843.0 L1193.6,844.5 L1195.6,846.0 L1197.6,847.4 L1199.7,848.8 L1201.8,850.1 L1204.0,851.4 L1206.2,852.6 L1208.5,853.8 L1210.8,854.9 L1213.1,855.9 L1215.4,857.0 L1217.8,857.9 L1220.2,858.8 L1222.6,859.7 L1225.1,860.5 L1227.6,861.3 L1230.0,862.0 L1232.5,862.6 L1235.0,863.3 L1237.5,863.8 L1240.0,864.3 L1242.5,864.8 L1245.0,865.2 L1247.5,865.6 L1250.0,866.0 L1252.5,866.3 L1255.0,866.5 L1257.5,866.7 L1260.0,866.9 L1262.5,867.1 L1265.0,867.2 L1267.5,867.3 L1270.0,867.3 L1272.5,867.4 L1275.0,867.4 L1277.4,867.4 L1279.9,867.4 L1282.4,867.4 L1284.9,867.3 L1287.4,867.3 L1289.9,867.2 L1292.4,867.1 L1294.9,867.1 L1297.4,867.0 L1300.0,866.9 L1302.5,866.8 L1305.0,866.8 L1307.5,866.7 L1310.1,866.6 L1312.6,866.6 L1315.2,866.5 L1317.7,866.5 L1320.3,866.5 L1322.8,866.4 L1325.4,866.4 L1327.9,866.4 L1330.5,866.4 L1333.0,866.4 L1335.5,866.4 L1338.1,866.4 L1340.6,866.4 L1343.2,866.4 L1345.7,866.4 L1348.2,866.4 L1350.7,866.4 L1353.2,866.5 L1355.7,866.5 L1358.2,866.5 L1360.7,866.6 L1361.9,866.6" fill="none" stroke="#000080" stroke-width="5.6" stroke-linejoin="round" stroke-linecap="round"/>
<path d="M329.6,868.8 L331.9,868.5 L334.2,868.2 L336.4,867.9 L338.7,867.7 L341.0,867.5 L343.2,867.4 L345.5,867.2 L347.8,867.1 L350.0,867.0 L352.3,867.0 L354.6,866.9 L356.8,866.9 L359.1,866.9 L361.4,866.9 L363.6,867.0 L365.9,867.0 L368.2,867.1 L370.4,867.1 L372.7,867.2 L375.0,867.3 L377.2,867.4 L379.5,867.5 L381.8,867.7 L384.0,867.8 L386.3,867.9 L388.6,868.0 L390.8,868.2 L393.1,868.3 L395.4,868.4 L397.7,868.5 L399.9,868.7 L402.2,868.8 L404.5,868.9 L406.8,869.0 L409.0,869.1 L411.3,869.2 L413.6,869.2 L415.8,869.3 L418.1,869.3 L420.4,869.4 L422.7,869.4 L424.9,869.4 L427.2,869.4 L429.5,869.3 L431.8,869.2 L434.0,869.2 L436.3,869.0 L438.6,868.9 L440.9,868.7 L443.1,868.6 L445.4,868.3 L447.7,868.1 L450.0,867.8 L452.2,867.6 L454.5,867.2 L456.7,866.9 L459.0,866.5 L461.2,866.1 L463.4,865.7 L465.7,865.3 L467.9,864.8 L470.1,864.3 L472.3,863.7 L474.5,863.2 L476.6,862.6 L478.8,862.0 L481.0,861.3 L483.1,860.6 L485.2,859.9 L487.3,859.2 L489.4,858.4 L491.5,857.6 L493.6,856.8 L495.7,855.9 L497.7,855.0 L499.7,854.1 L501.7,853.1 L503.7,852.1 L505.6,851.1 L507.6,850.1 L509.5,849.0 L511.4,847.8 L513.3,846.7 L515.1,845.5 L517.0,844.3 L518.8,843.0 L520.6,841.7 L522.3,840.4 L524.1,839.0 L525.8,837.6 L527.5,836.2 L529.1,834.8 L530.7,833.2 L532.3,831.7 L533.9,830.1 L535.5,828.6 L537.0,826.9 L538.5,825.3 L540.0,823.6 L541.4,821.9 L542.9,820.1 L544.3,818.4 L545.7,816.6 L547.0,814.7 L548.4,812.9 L549.7,811.0 L551.0,809.1 L552.3,807.2 L553.6,805.3 L554.8,803.4 L556.1,801.4 L557.3,799.4 L558.5,797.4 L559.6,795.4 L560.8,793.3 L561.9,791.3 L563.0,789.2 L564.2,787.2 L565.3,785.1 L566.3,783.0 L567.4,780.9 L568.4,778.7 L569.5,776.6 L570.5,774.5 L571.5,772.3 L572.5,770.2 L573.5,768.1 L574.5,765.9 L575.4,763.7 L576.4,761.6 L577.3,759.4 L578.2,757.2 L579.2,755.1 L580.1,752.9 L581.0,750.8 L581.9,748.6 L582.7,746.4 L583.6,744.3 L584.5,742.1 L585.3,740.0 L586.2,737.8 L587.0,735.7 L587.9,733.5 L588.7,731.4 L589.5,729.3 L590.4,727.1 L591.2,725.0 L592.0,722.8 L592.8,720.7 L593.6,718.6 L594.4,716.4 L595.1,714.3 L595.9,712.2 L596.7,710.1 L597.5,707.9 L598.2,705.8 L599.0,703.7 L599.7,701.6 L600.5,699.4 L601.2,697.3 L602.0,695.2 L602.7,693.1 L603.5,691.0 L604.2,688.8 L604.9,686.7 L605.7,684.6 L606.4,682.5 L607.1,680.4 L607.8,678.2 L608.6,676.1 L609.3,674.0 L610.0,671.9 L610.7,669.8 L611.5,667.7 L612.2,665.6 L612.9,663.4 L613.6,661.3 L614.3,659.2 L615.0,657.1 L615.8,655.0 L616.5,652.9 L617.2,650.7 L617.9,648.6 L618.6,646.5 L619.4,644.4 L620.1,642.3 L620.8,640.2 L621.5,638.0 L622.3,635.9 L623.0,633.8 L623.7,631.7 L624.4,629.6 L625.2,627.4 L625.9,625.3 L626.6,623.2 L627.3,621.1 L628.1,619.0 L628.8,616.8 L629.5,614.7 L630.3,612.6 L631.0,610.5 L631.7,608.3 L632.4,606.2 L633.2,604.1 L633.9,602.0 L634.6,599.8 L635.4,597.7 L636.1,595.6 L636.9,593.5 L637.6,591.3 L638.3,589.2 L639.1,587.1 L639.8,585.0 L640.6,582.8 L641.3,580.7 L642.0,578.6 L642.8,576.5 L643.5,574.3 L644.3,572.2 L645.0,570.1 L645.8,567.9 L646.5,565.8 L647.3,563.7 L648.0,561.6 L648.8,559.4 L649.5,557.3 L650.3,555.2 L651.1,553.0 L651.8,550.9 L652.6,548.8 L653.3,546.6 L654.1,544.5 L654.9,542.4 L655.6,540.2 L656.4,538.1 L657.2,536.0 L657.9,533.8 L658.7,531.7 L659.5,529.6 L660.2,527.4 L661.0,525.3 L661.8,523.1 L662.6,521.0 L663.3,518.9 L664.1,516.7 L664.9,514.6 L665.7,512.5 L666.5,510.3 L667.2,508.2 L668.0,506.0 L668.8,503.9 L669.6,501.8 L670.4,499.6 L671.2,497.5 L672.0,495.3 L672.8,493.2 L673.6,491.0 L674.4,488.9 L675.2,486.8 L676.0,484.6 L676.8,482.5 L677.6,480.3 L678.4,478.2 L679.2,476.0 L680.0,473.9 L680.8,471.7 L681.7,469.6 L682.5,467.4 L683.3,465.3 L684.1,463.2 L684.9,461.0 L685.8,458.9 L686.6,456.7 L687.4,454.6 L688.2,452.4 L689.1,450.3 L689.9,448.1 L690.7,446.0 L691.6,443.8 L692.4,441.7 L693.3,439.5 L694.2,437.4 L695.0,435.2 L695.9,433.1 L696.8,431.0 L697.6,428.8 L698.5,426.7 L699.4,424.6 L700.4,422.4 L701.3,420.3 L702.2,418.2 L703.1,416.1 L704.1,414.0 L705.0,411.9 L706.0,409.8 L707.0,407.7 L708.0,405.6 L709.0,403.5 L710.0,401.5 L711.0,399.4 L712.1,397.4 L713.2,395.3 L714.2,393.3 L715.3,391.2 L716.4,389.2 L717.5,387.2 L718.7,385.2 L719.8,383.2 L721.0,381.2 L722.2,379.2 L723.4,377.2 L724.6,375.3 L725.9,373.3 L727.2,371.4 L728.5,369.5 L729.8,367.6 L731.1,365.7 L732.4,363.8 L733.8,361.9 L735.2,360.0 L736.6,358.2 L738.1,356.3 L739.5,354.5 L741.0,352.7 L742.5,350.9 L744.1,349.2 L745.6,347.4 L747.2,345.8 L748.8,344.1 L750.5,342.6 L752.1,341.0 L753.8,339.5 L755.5,338.1 L757.2,336.8 L759.0,335.5 L760.8,334.3 L762.6,333.2 L764.4,332.1 L766.3,331.1 L768.1,330.3 L770.1,329.5 L772.0,328.8 L773.9,328.3 L775.9,327.8 L777.9,327.5 L780.0,327.2 L782.0,327.1 L784.1,327.1 L786.2,327.2 L788.3,327.4 L790.4,327.7 L792.5,328.1 L794.6,328.5 L796.8,329.1 L798.9,329.7 L801.0,330.4 L803.1,331.2 L805.2,332.1 L807.3,333.0 L809.4,334.0 L811.4,335.1 L813.4,336.2 L815.4,337.3 L817.4,338.6 L819.3,339.8 L821.2,341.1 L823.1,342.5 L824.9,343.8 L826.7,345.3 L828.5,346.7 L830.2,348.2 L831.9,349.7 L833.6,351.3 L835.2,352.9 L836.9,354.5 L838.4,356.2 L840.0,357.9 L841.5,359.6 L843.0,361.3 L844.5,363.1 L845.9,364.9 L847.3,366.7 L848.7,368.6 L850.0,370.5 L851.4,372.4 L852.7,374.3 L854.0,376.2 L855.2,378.2 L856.5,380.1 L857.7,382.1 L858.9,384.2 L860.1,386.2 L861.2,388.2 L862.4,390.3 L863.5,392.4 L864.6,394.4 L865.7,396.5 L866.8,398.6 L867.8,400.8 L868.9,402.9 L869.9,405.0 L870.9,407.1 L871.9,409.3 L872.9,411.4 L873.9,413.6 L874.8,415.7 L875.8,417.9 L876.7,420.0 L877.6,422.2 L878.5,424.3 L879.5,426.5 L880.4,428.6 L881.2,430.8 L882.1,432.9 L883.0,435.1 L883.9,437.2 L884.7,439.3 L885.6,441.5 L886.4,443.6 L887.3,445.7 L888.1,447.9 L889.0,450.0 L889.8,452.1 L890.6,454.2 L891.4,456.3 L892.2,458.5 L893.0,460.6 L893.8,462.7 L894.6,464.8 L895.4,466.9 L896.2,469.0 L896.9,471.1 L897.7,473.3 L898.5,475.4 L899.3,477.5 L900.0,479.6 L900.8,481.7 L901.5,483.8 L902.3,485.9 L903.0,488.0 L903.8,490.1 L904.5,492.2 L905.3,494.3 L906.0,496.4 L906.8,498.5 L907.5,500.6 L908.3,502.7 L909.0,504.8 L909.7,506.9 L910.5,509.0 L911.2,511.1 L912.0,513.2 L912.7,515.3 L913.4,517.4 L914.2,519.5 L914.9,521.6 L915.7,523.7 L916.4,525.8 L917.2,527.9 L917.9,530.0 L918.7,532.1 L919.4,534.2 L920.2,536.3 L920.9,538.4 L921.7,540.5 L922.5,542.7 L923.2,544.8 L924.0,546.9 L924.7,549.0 L925.5,551.1 L926.3,553.2 L927.0,555.3 L927.8,557.4 L928.6,559.5 L929.4,561.6 L930.1,563.7 L930.9,565.9 L931.7,568.0 L932.5,570.1 L933.3,572.2 L934.1,574.3 L934.8,576.4 L935.6,578.5 L936.4,580.7 L937.2,582.8 L938.0,584.9 L938.8,587.0 L939.6,589.1 L940.4,591.2 L941.2,593.3 L942.0,595.5 L942.8,597.6 L943.6,599.7 L944.4,601.8 L945.2,603.9 L946.0,606.0 L946.8,608.1 L947.7,610.3 L948.5,612.4 L949.3,614.5 L950.1,616.6 L950.9,618.7 L951.7,620.8 L952.6,623.0 L953.4,625.1 L954.2,627.2 L955.0,629.3 L955.9,631.4 L956.7,633.5 L957.5,635.6 L958.4,637.8 L959.2,639.9 L960.0,642.0 L960.9,644.1 L961.7,646.2 L962.5,648.3 L963.4,650.4 L964.2,652.6 L965.1,654.7 L965.9,656.8 L966.8,658.9 L967.6,661.0 L968.5,663.1 L969.3,665.2 L970.2,667.3 L971.0,669.5 L971.9,671.6 L972.7,673.7 L973.6,675.8 L974.5,677.9 L975.3,680.0 L976.2,682.1 L977.1,684.2 L977.9,686.3 L978.8,688.4 L979.7,690.5 L980.5,692.7 L981.4,694.8 L982.3,696.9 L983.2,699.0 L984.0,701.1 L984.9,703.2 L985.8,705.3 L986.7,707.4 L987.6,709.5 L988.4,711.6 L989.3,713.7 L990.2,715.8 L991.1,717.9 L992.0,720.0 L992.9,722.1 L993.8,724.2 L994.7,726.3 L995.5,728.4 L996.4,730.5 L997.3,732.6 L998.2,734.7 L999.1,736.7 L1000.0,738.8 L1000.9,740.9 L1001.9,743.0 L1002.8,745.1 L1003.7,747.2 L1004.6,749.3 L1005.5,751.3 L1006.5,753.4 L1007.4,755.5 L1008.3,757.6 L1009.3,759.6 L1010.2,761.7 L1011.2,763.8 L1012.2,765.8 L1013.1,767.9 L1014.1,769.9 L1015.1,772.0 L1016.1,774.0 L1017.1,776.1 L1018.1,778.1 L1019.1,780.1 L1020.1,782.2 L1021.2,784.2 L1022.2,786.2 L1023.3,788.2 L1024.3,790.2 L1025.4,792.2 L1026.5,794.2 L1027.6,796.2 L1028.7,798.2 L1029.9,800.2 L1031.0,802.1 L1032.1,804.1 L1033.3,806.1 L1034.5,808.0 L1035.7,809.9 L1036.9,811.9 L1038.1,813.8 L1039.3,815.7 L1040.6,817.7 L1041.8,819.6 L1043.1,821.5 L1044.4,823.4 L1045.7,825.2 L1047.0,827.1 L1048.4,829.0 L1049.7,830.8 L1051.1,832.7 L1052.5,834.5 L1053.9,836.4 L1055.4,838.2 L1056.8,839.9 L1058.3,841.7 L1059.8,843.4 L1061.3,845.1 L1062.8,846.8 L1064.4,848.4 L1066.0,850.0 L1067.6,851.5 L1069.3,853.0 L1070.9,854.5 L1072.6,855.9 L1074.4,857.3 L1076.1,858.5 L1077.9,859.8 L1079.7,860.9 L1081.6,862.0 L1083.5,863.1 L1085.4,864.0 L1087.3,864.9 L1089.3,865.7 L1091.3,866.5 L1093.4,867.1 L1095.4,867.8 L1097.5,868.3 L1099.7,868.8 L1101.8,869.2 L1104.0,869.6 L1106.2,869.9 L1108.4,870.2 L1110.6,870.5 L1112.9,870.7 L1115.1,870.9 L1117.4,871.0 L1119.7,871.1 L1122.0,871.2 L1124.3,871.3 L1126.6,871.3 L1128.9,871.4 L1131.2,871.4 L1133.5,871.4 L1135.8,871.4 L1138.1,871.4 L1140.4,871.5 L1142.7,871.5 L1145.0,871.5 L1147.4,871.5 L1149.7,871.5 L1152.0,871.5 L1154.3,871.6 L1156.6,871.6 L1158.8,871.6 L1161.1,871.6 L1163.4,871.6 L1165.7,871.6 L1168.0,871.6 L1170.3,871.7 L1172.6,871.7 L1174.9,871.7 L1177.2,871.7 L1179.4,871.7 L1181.7,871.7 L1184.0,871.8 L1186.3,871.8 L1188.6,871.8 L1190.8,871.8 L1193.1,871.8 L1195.4,871.8 L1197.6,871.8 L1199.9,871.9 L1202.2,871.9 L1204.5,871.9 L1206.7,871.9 L1209.0,871.9 L1211.3,871.9 L1213.5,871.9 L1215.8,871.9 L1218.1,872.0 L1220.3,872.0 L1222.6,872.0 L1224.9,872.0 L1227.1,872.0 L1229.4,872.0 L1231.6,872.0 L1233.9,872.0 L1236.2,872.0 L1238.4,872.1 L1240.7,872.1 L1242.9,872.1 L1245.2,872.1 L1247.5,872.1 L1249.7,872.1 L1252.0,872.1 L1254.2,872.1 L1256.5,872.1 L1258.7,872.1 L1261.0,872.2 L1263.3,872.2 L1265.5,872.2 L1267.8,872.2 L1270.0,872.2 L1272.3,872.2 L1274.6,872.2 L1276.8,872.2 L1279.1,872.2 L1281.3,872.2 L1283.6,872.2 L1285.9,872.2 L1288.1,872.2 L1290.4,872.2 L1292.7,872.2 L1294.9,872.2 L1297.2,872.2 L1299.4,872.2 L1301.7,872.2 L1304.0,872.3 L1306.3,872.3 L1308.5,872.3 L1310.8,872.3 L1313.1,872.3 L1315.3,872.3 L1317.6,872.3 L1319.9,872.3 L1322.2,872.3 L1324.4,872.3 L1326.7,872.3 L1329.0,872.2 L1331.3,872.2 L1333.5,872.2 L1335.8,872.2 L1338.1,872.2 L1340.4,872.2 L1342.7,872.2 L1345.0,872.2 L1347.3,872.2 L1349.5,872.2 L1351.8,872.2 L1354.1,872.2 L1356.4,872.2 L1358.7,872.2 L1361.0,872.2 L1362.2,872.2" fill="none" stroke="#8000FF" stroke-width="5.6" stroke-linejoin="round" stroke-linecap="round"/>
<rect x="207.75" y="32.25" width="1155" height="853.4" fill="none" stroke="#000" stroke-width="4" stroke-linejoin="round"/>
<line x1="400.3" y1="885.5" x2="400.3" y2="869.6" stroke="#000" stroke-width="3.5"/>
<line x1="593.0" y1="885.5" x2="593.0" y2="869.6" stroke="#000" stroke-width="3.5"/>
<line x1="785.6" y1="885.5" x2="785.6" y2="869.6" stroke="#000" stroke-width="3.5"/>
<line x1="978.3" y1="885.5" x2="978.3" y2="869.6" stroke="#000" stroke-width="3.5"/>
<line x1="1171.0" y1="885.5" x2="1171.0" y2="869.6" stroke="#000" stroke-width="3.5"/>
<line x1="207.75" y1="695.3" x2="226" y2="695.3" stroke="#000" stroke-width="3.5"/>
<line x1="207.75" y1="505.7" x2="226" y2="505.7" stroke="#000" stroke-width="3.5"/>
<line x1="207.75" y1="316.2" x2="226" y2="316.2" stroke="#000" stroke-width="3.5"/>
<line x1="207.75" y1="126.6" x2="226" y2="126.6" stroke="#000" stroke-width="3.5"/>
<text x="207.6" y="953.5" font-family="Liberation Sans, sans-serif" font-size="61" text-anchor="middle">16</text>
<text x="400.3" y="953.5" font-family="Liberation Sans, sans-serif" font-size="61" text-anchor="middle">18</text>
<text x="593.0" y="953.5" font-family="Liberation Sans, sans-serif" font-size="61" text-anchor="middle">20</text>
<text x="785.6" y="953.5" font-family="Liberation Sans, sans-serif" font-size="61" text-anchor="middle">22</text>
<text x="978.3" y="953.5" font-family="Liberation Sans, sans-serif" font-size="61" text-anchor="middle">24</text>
<text x="1171.0" y="953.5" font-family="Liberation Sans, sans-serif" font-size="61" text-anchor="middle">26</text>
<text x="1363.7" y="953.5" font-family="Liberation Sans, sans-serif" font-size="61" text-anchor="middle">28</text>
<text x="189.5" y="903.4" font-family="Liberation Sans, sans-serif" font-size="61" text-anchor="end">0.0</text>
<text x="189.5" y="713.8" font-family="Liberation Sans, sans-serif" font-size="61" text-anchor="end">0.2</text>
<text x="189.5" y="524.2" font-family="Liberation Sans, sans-serif" font-size="61" text-anchor="end">0.4</text>
<text x="189.5" y="334.7" font-family="Liberation Sans, sans-serif" font-size="61" text-anchor="end">0.6</text>
<text x="189.5" y="145.1" font-family="Liberation Sans, sans-serif" font-size="61" text-anchor="end">0.8</text>
<text transform="translate(624,1017) scale(1,1.03)" font-family="Liberation Sans, sans-serif" font-size="66">Time/min</text>
<text transform="translate(74.3,554.5) rotate(-90) scale(1,1.06)" font-family="Liberation Sans, sans-serif" font-size="64.5">Intensity</text>
<line x1="236" y1="78.2" x2="314" y2="78.2" stroke="#FF0000" stroke-width="5.8" stroke-linecap="round"/>
<text transform="translate(350.8,91.0) scale(1,1.06)" font-family="Liberation Sans, sans-serif" font-size="47" letter-spacing="3.5">PDM</text>
<line x1="236" y1="139.3" x2="314" y2="139.3" stroke="#0000FF" stroke-width="5.8" stroke-linecap="round"/>
<text transform="translate(342.5,153.6) scale(1,1.06)" font-family="Liberation Sans, sans-serif" font-size="47" letter-spacing="1.5">PDM-b-PMMA</text>
<line x1="236" y1="200.4" x2="314" y2="200.4" stroke="#FF00FF" stroke-width="5.8" stroke-linecap="round"/>
<text transform="translate(342.5,214.7) scale(1,1.06)" font-family="Liberation Sans, sans-serif" font-size="47" letter-spacing="1.5">PDM-b-PEMA</text>
<line x1="236" y1="261.5" x2="314" y2="261.5" stroke="#000000" stroke-width="5.8" stroke-linecap="round"/>
<text transform="translate(342.5,275.8) scale(1,1.06)" font-family="Liberation Sans, sans-serif" font-size="47" letter-spacing="1.5">PDM-b-PBMA</text>
<line x1="236" y1="322.6" x2="314" y2="322.6" stroke="#000080" stroke-width="5.8" stroke-linecap="round"/>
<text transform="translate(342.5,336.9) scale(1,1.06)" font-family="Liberation Sans, sans-serif" font-size="47" letter-spacing="1.5">PDM-b-POMA</text>
<line x1="236" y1="383.7" x2="314" y2="383.7" stroke="#008000" stroke-width="5.8" stroke-linecap="round"/>
<text transform="translate(342.5,398.0) scale(1,1.06)" font-family="Liberation Sans, sans-serif" font-size="47" letter-spacing="1.5">PDM-b-PLMA</text>
<line x1="236" y1="444.8" x2="314" y2="444.8" stroke="#8000FF" stroke-width="5.8" stroke-linecap="round"/>
<text transform="translate(342.5,459.1) scale(1,1.06)" font-family="Liberation Sans, sans-serif" font-size="47" letter-spacing="1.5">PDM-co-PBMA</text>
</svg>
</body></html>
